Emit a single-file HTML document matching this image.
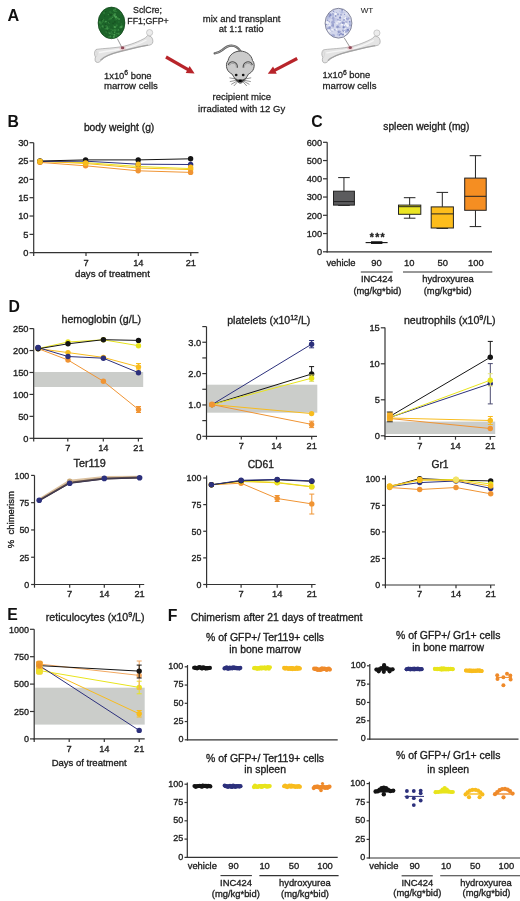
<!DOCTYPE html>
<html><head><meta charset="utf-8"><title>Figure</title>
<style>
html,body{margin:0;padding:0;background:#fff;}
body{width:520px;height:901px;overflow:hidden;}
svg{display:block;font-family:"Liberation Sans", sans-serif;will-change:transform;filter:blur(0.3px);}
text{font-family:"Liberation Sans", sans-serif;stroke:#1e1e1e;paint-order:fill;}
</style></head>
<body>
<svg width="520" height="901" viewBox="0 0 520 901">
<text x="7.40" y="20.90" font-size="16.2" text-anchor="start" font-weight="bold" fill="#111" style="stroke-width:0.0px" >A</text>
<g>
<path d="M96,49.5 C100,48.6 110,48.4 121,46.8 C130,45.2 140,41 145.5,37.8 L147.6,35.4 L151,36.6 C152.8,38.4 153.4,41.2 152.4,43.4 C151.2,45.2 148.5,45.4 146,45.6 C138,47 128,50 121,51.6 C112,53.6 106,56 102,59.5 C100.5,61 99.5,62.5 97.5,62.5 C95,62.5 94.5,59.5 95.5,57 C94.2,55 94,51.5 96,49.5 Z" fill="#e4e4e4" stroke="#a2a2a2" stroke-width="0.7"/>
<path d="M100.5,60.2 C104,56.5 110,54 121,51.2 C130,49 140,46.4 148,45.2" fill="none" stroke="#9c9c9c" stroke-width="1.3" opacity="0.85"/>
<path d="M99,52.5 C106,51.2 114,50.4 122,49 C132,47 140,43.6 146.5,40" fill="none" stroke="#f6f6f6" stroke-width="1.4"/>
<circle cx="149.6" cy="32.6" r="3.1" fill="#ececec" stroke="#b0b0b0" stroke-width="0.6"/>
<path d="M96.2,50.4 C97.6,52.6 97.4,55 96.2,57" fill="none" stroke="#cfcfcf" stroke-width="0.6"/>
</g>
<g transform="translate(227.3,0.4)">
<path d="M96,49.5 C100,48.6 110,48.4 121,46.8 C130,45.2 140,41 145.5,37.8 L147.6,35.4 L151,36.6 C152.8,38.4 153.4,41.2 152.4,43.4 C151.2,45.2 148.5,45.4 146,45.6 C138,47 128,50 121,51.6 C112,53.6 106,56 102,59.5 C100.5,61 99.5,62.5 97.5,62.5 C95,62.5 94.5,59.5 95.5,57 C94.2,55 94,51.5 96,49.5 Z" fill="#e4e4e4" stroke="#a2a2a2" stroke-width="0.7"/>
<path d="M100.5,60.2 C104,56.5 110,54 121,51.2 C130,49 140,46.4 148,45.2" fill="none" stroke="#9c9c9c" stroke-width="1.3" opacity="0.85"/>
<path d="M99,52.5 C106,51.2 114,50.4 122,49 C132,47 140,43.6 146.5,40" fill="none" stroke="#f6f6f6" stroke-width="1.4"/>
<circle cx="149.6" cy="32.6" r="3.1" fill="#ececec" stroke="#b0b0b0" stroke-width="0.6"/>
<path d="M96.2,50.4 C97.6,52.6 97.4,55 96.2,57" fill="none" stroke="#cfcfcf" stroke-width="0.6"/>
</g>
<ellipse cx="111.5" cy="22.9" rx="13.5" ry="15.9" fill="#1c6329"/>
<circle cx="109.31" cy="28.06" r="0.53" fill="#237030" />
<circle cx="113.17" cy="18.79" r="0.54" fill="#175222" />
<circle cx="109.06" cy="22.77" r="0.79" fill="#4a9e52" />
<circle cx="112.05" cy="33.92" r="1.08" fill="#2e7d38" />
<circle cx="115.74" cy="27.83" r="0.91" fill="#237030" />
<circle cx="120.42" cy="27.21" r="1.18" fill="#2e7d38" />
<circle cx="122.68" cy="26.87" r="0.79" fill="#2a7434" />
<circle cx="102.29" cy="20.06" r="1.07" fill="#175222" />
<circle cx="115.55" cy="33.18" r="0.63" fill="#237030" />
<circle cx="120.20" cy="30.11" r="0.54" fill="#175222" />
<circle cx="114.34" cy="34.70" r="1.04" fill="#4a9e52" />
<circle cx="99.67" cy="25.96" r="0.71" fill="#2a7434" />
<circle cx="114.40" cy="10.95" r="0.56" fill="#3c8f45" />
<circle cx="108.75" cy="32.84" r="1.01" fill="#2a7434" />
<circle cx="108.55" cy="37.20" r="0.86" fill="#2e7d38" />
<circle cx="115.25" cy="30.38" r="0.8" fill="#4a9e52" />
<circle cx="114.91" cy="21.92" r="0.9" fill="#175222" />
<circle cx="116.51" cy="17.03" r="0.75" fill="#237030" />
<circle cx="100.25" cy="23.18" r="1.09" fill="#2e7d38" />
<circle cx="119.66" cy="19.41" r="0.55" fill="#237030" />
<circle cx="110.67" cy="14.68" r="1.2" fill="#175222" />
<circle cx="114.44" cy="15.76" r="1.12" fill="#4a9e52" />
<circle cx="104.50" cy="34.72" r="0.62" fill="#2a7434" />
<circle cx="113.77" cy="25.32" r="0.59" fill="#2a7434" />
<circle cx="111.62" cy="32.20" r="0.56" fill="#4a9e52" />
<circle cx="102.63" cy="26.36" r="1.07" fill="#3c8f45" />
<circle cx="115.86" cy="16.98" r="1.19" fill="#4a9e52" />
<circle cx="108.31" cy="14.54" r="0.61" fill="#3c8f45" />
<circle cx="114.21" cy="29.30" r="0.51" fill="#3c8f45" />
<circle cx="114.12" cy="17.36" r="0.5" fill="#2a7434" />
<circle cx="104.82" cy="27.30" r="0.72" fill="#175222" />
<circle cx="119.73" cy="32.68" r="0.96" fill="#175222" />
<circle cx="110.95" cy="12.87" r="1.06" fill="#237030" />
<circle cx="105.29" cy="28.78" r="0.84" fill="#2e7d38" />
<circle cx="107.04" cy="26.70" r="0.81" fill="#3c8f45" />
<circle cx="119.03" cy="30.24" r="0.5" fill="#2e7d38" />
<circle cx="113.83" cy="26.75" r="0.93" fill="#2a7434" />
<circle cx="116.69" cy="25.80" r="0.6" fill="#4a9e52" />
<circle cx="111.39" cy="31.66" r="0.83" fill="#2a7434" />
<circle cx="118.09" cy="29.79" r="0.84" fill="#4a9e52" />
<circle cx="109.69" cy="28.12" r="0.74" fill="#237030" />
<circle cx="110.44" cy="36.38" r="0.86" fill="#3c8f45" />
<circle cx="114.91" cy="36.84" r="0.6" fill="#2a7434" />
<circle cx="109.50" cy="22.24" r="0.71" fill="#175222" />
<circle cx="109.13" cy="19.39" r="0.86" fill="#2a7434" />
<circle cx="117.80" cy="18.07" r="0.87" fill="#3c8f45" />
<circle cx="112.81" cy="14.51" r="0.93" fill="#3c8f45" />
<circle cx="114.12" cy="10.33" r="1.06" fill="#3c8f45" />
<circle cx="116.01" cy="11.27" r="0.64" fill="#3c8f45" />
<circle cx="100.74" cy="23.48" r="1.05" fill="#2e7d38" />
<circle cx="106.04" cy="24.04" r="1.17" fill="#175222" />
<circle cx="99.97" cy="27.59" r="1.17" fill="#2a7434" />
<circle cx="107.60" cy="28.15" r="0.83" fill="#3c8f45" />
<circle cx="106.92" cy="31.70" r="1.09" fill="#175222" />
<circle cx="101.40" cy="24.45" r="0.56" fill="#237030" />
<circle cx="105.10" cy="10.90" r="1.03" fill="#237030" />
<circle cx="106.23" cy="23.76" r="0.73" fill="#237030" />
<circle cx="115.40" cy="8.99" r="0.82" fill="#4a9e52" />
<circle cx="111.35" cy="18.57" r="0.62" fill="#3c8f45" />
<circle cx="114.92" cy="27.04" r="1.06" fill="#4a9e52" />
<circle cx="118.45" cy="33.64" r="0.96" fill="#4a9e52" />
<circle cx="105.99" cy="31.79" r="0.51" fill="#3c8f45" />
<circle cx="114.78" cy="10.83" r="0.87" fill="#2e7d38" />
<circle cx="119.09" cy="18.93" r="1.08" fill="#3c8f45" />
<circle cx="113.03" cy="30.14" r="0.85" fill="#2a7434" />
<circle cx="112.12" cy="14.44" r="0.79" fill="#175222" />
<circle cx="119.67" cy="33.30" r="1.13" fill="#2a7434" />
<circle cx="105.55" cy="11.46" r="0.79" fill="#175222" />
<circle cx="119.26" cy="17.70" r="0.61" fill="#175222" />
<circle cx="99.75" cy="21.98" r="0.93" fill="#3c8f45" />
<circle cx="112.29" cy="17.22" r="0.83" fill="#3c8f45" />
<circle cx="110.04" cy="11.94" r="0.98" fill="#2a7434" />
<circle cx="102.91" cy="20.92" r="1.12" fill="#2e7d38" />
<circle cx="116.66" cy="25.17" r="1.04" fill="#2e7d38" />
<circle cx="102.07" cy="22.36" r="0.81" fill="#2e7d38" />
<circle cx="104.69" cy="16.03" r="0.64" fill="#175222" />
<circle cx="109.97" cy="33.34" r="0.86" fill="#4a9e52" />
<circle cx="111.63" cy="33.65" r="1.15" fill="#2a7434" />
<circle cx="115.93" cy="18.72" r="0.6" fill="#4a9e52" />
<circle cx="117.55" cy="29.74" r="0.97" fill="#2e7d38" />
<circle cx="106.27" cy="25.88" r="1.05" fill="#2a7434" />
<circle cx="115.45" cy="19.38" r="0.95" fill="#237030" />
<circle cx="107.27" cy="28.47" r="1.18" fill="#3c8f45" />
<circle cx="113.84" cy="37.15" r="1.12" fill="#4a9e52" />
<circle cx="116.86" cy="33.27" r="0.61" fill="#3c8f45" />
<circle cx="103.28" cy="27.35" r="0.79" fill="#2a7434" />
<circle cx="109.12" cy="26.44" r="0.51" fill="#2a7434" />
<circle cx="103.62" cy="19.61" r="0.77" fill="#2e7d38" />
<circle cx="104.69" cy="22.02" r="0.58" fill="#2e7d38" />
<circle cx="116.75" cy="19.42" r="0.56" fill="#2e7d38" />
<circle cx="109.85" cy="36.92" r="0.69" fill="#3c8f45" />
<circle cx="117.12" cy="29.92" r="1.07" fill="#237030" />
<circle cx="111.24" cy="28.64" r="0.9" fill="#175222" />
<circle cx="110.34" cy="18.67" r="1.06" fill="#2e7d38" />
<circle cx="116.35" cy="35.75" r="1.16" fill="#2a7434" />
<circle cx="104.01" cy="12.95" r="0.93" fill="#2e7d38" />
<circle cx="112.62" cy="30.43" r="0.82" fill="#2e7d38" />
<circle cx="106.52" cy="32.27" r="0.94" fill="#2a7434" />
<circle cx="121.72" cy="26.26" r="1.18" fill="#2e7d38" />
<circle cx="111.10" cy="29.21" r="0.94" fill="#2a7434" />
<circle cx="105.89" cy="21.59" r="0.85" fill="#4a9e52" />
<circle cx="114.75" cy="30.77" r="1.2" fill="#2e7d38" />
<circle cx="113.16" cy="23.36" r="0.89" fill="#175222" />
<circle cx="114.72" cy="32.41" r="0.57" fill="#4a9e52" />
<circle cx="114.98" cy="14.03" r="0.88" fill="#4a9e52" />
<circle cx="121.00" cy="13.47" r="0.98" fill="#2a7434" />
<circle cx="118.83" cy="21.94" r="1.01" fill="#237030" />
<circle cx="119.51" cy="34.28" r="1.09" fill="#2e7d38" />
<circle cx="121.42" cy="23.95" r="0.8" fill="#2a7434" />
<circle cx="121.16" cy="27.04" r="1.11" fill="#4a9e52" />
<ellipse cx="111.5" cy="22.9" rx="13.4" ry="15.8" fill="none" stroke="#14481d" stroke-width="0.7"/>
<line x1="117.30" y1="38.60" x2="121.60" y2="46.90" stroke="#555" stroke-width="0.6" />
<ellipse cx="122.6" cy="47.9" rx="1.7" ry="1.4" fill="#5e1a2c"/>
<ellipse cx="122.6" cy="48.2" rx="3.2" ry="2.2" fill="#e8a0a8" opacity="0.35"/>
<text x="147.50" y="13.20" font-size="8.8" text-anchor="middle" font-weight="normal" fill="#1e1e1e" style="stroke-width:0.26px" >SclCre;</text>
<text x="148.00" y="23.60" font-size="8.8" text-anchor="middle" font-weight="normal" fill="#1e1e1e" style="stroke-width:0.26px" >FF1;GFP+</text>
<text x="104.00" y="78.60" font-size="9.4" text-anchor="start" font-weight="normal" fill="#1e1e1e" style="stroke-width:0.26px" >1x10<tspan font-size="6.8" dy="-3.8">6</tspan><tspan dy="3.8"> bone</tspan></text>
<text x="104.00" y="89.20" font-size="9.6" text-anchor="start" font-weight="normal" fill="#1e1e1e" style="stroke-width:0.26px" >marrow cells</text>
<ellipse cx="338.5" cy="23.2" rx="13.4" ry="14.9" fill="#d3d7ec"/>
<circle cx="329.49" cy="26.26" r="0.97" fill="#b5bde0" />
<circle cx="328.85" cy="22.68" r="1.24" fill="#a3aad4" />
<circle cx="328.74" cy="24.85" r="0.68" fill="#a3aad4" />
<circle cx="337.25" cy="27.14" r="1.31" fill="#b5bde0" />
<circle cx="332.05" cy="15.20" r="1.37" fill="#c3c8e6" />
<circle cx="332.89" cy="14.25" r="1.1" fill="#a3aad4" />
<circle cx="340.06" cy="20.17" r="0.75" fill="#8f97c8" />
<circle cx="338.61" cy="25.60" r="0.86" fill="#c3c8e6" />
<circle cx="333.82" cy="19.89" r="1.11" fill="#a3aad4" />
<circle cx="328.24" cy="23.22" r="1.12" fill="#c3c8e6" />
<circle cx="330.70" cy="28.89" r="0.67" fill="#b5bde0" />
<circle cx="338.22" cy="35.26" r="0.83" fill="#f4f5fb" />
<circle cx="348.47" cy="28.38" r="0.69" fill="#c3c8e6" />
<circle cx="337.67" cy="26.67" r="1.28" fill="#8f97c8" />
<circle cx="344.27" cy="23.22" r="0.98" fill="#8f97c8" />
<circle cx="346.38" cy="22.12" r="1.05" fill="#8f97c8" />
<circle cx="341.79" cy="34.00" r="0.67" fill="#7c86bf" />
<circle cx="332.36" cy="35.02" r="1.34" fill="#b5bde0" />
<circle cx="345.53" cy="31.92" r="0.65" fill="#8f97c8" />
<circle cx="340.05" cy="17.61" r="0.75" fill="#f4f5fb" />
<circle cx="326.01" cy="22.43" r="0.7" fill="#b5bde0" />
<circle cx="335.84" cy="19.49" r="1.39" fill="#c3c8e6" />
<circle cx="350.21" cy="23.24" r="1.07" fill="#b5bde0" />
<circle cx="340.27" cy="23.17" r="0.92" fill="#a3aad4" />
<circle cx="344.66" cy="14.40" r="0.63" fill="#8f97c8" />
<circle cx="343.57" cy="30.53" r="1.22" fill="#8f97c8" />
<circle cx="335.24" cy="29.84" r="0.66" fill="#8f97c8" />
<circle cx="341.08" cy="33.89" r="1.08" fill="#8f97c8" />
<circle cx="332.63" cy="29.93" r="0.99" fill="#f4f5fb" />
<circle cx="328.04" cy="17.37" r="1.1" fill="#a3aad4" />
<circle cx="336.25" cy="29.35" r="0.8" fill="#f4f5fb" />
<circle cx="342.50" cy="34.28" r="0.76" fill="#f4f5fb" />
<circle cx="349.76" cy="19.19" r="0.66" fill="#f4f5fb" />
<circle cx="342.48" cy="24.54" r="1.37" fill="#f4f5fb" />
<circle cx="339.27" cy="34.80" r="0.94" fill="#7c86bf" />
<circle cx="345.80" cy="17.73" r="0.74" fill="#f4f5fb" />
<circle cx="337.89" cy="19.63" r="0.98" fill="#a3aad4" />
<circle cx="332.87" cy="14.26" r="0.82" fill="#8f97c8" />
<circle cx="343.44" cy="20.09" r="0.66" fill="#8f97c8" />
<circle cx="333.16" cy="26.85" r="0.74" fill="#8f97c8" />
<circle cx="332.03" cy="30.90" r="0.67" fill="#a3aad4" />
<circle cx="343.95" cy="30.31" r="1.13" fill="#7c86bf" />
<circle cx="335.02" cy="13.32" r="1.07" fill="#a3aad4" />
<circle cx="346.20" cy="18.79" r="1.16" fill="#7c86bf" />
<circle cx="340.29" cy="22.73" r="0.66" fill="#eef0f8" />
<circle cx="344.91" cy="26.37" r="1.4" fill="#a3aad4" />
<circle cx="346.79" cy="27.86" r="0.64" fill="#eef0f8" />
<circle cx="348.46" cy="18.56" r="1.23" fill="#a3aad4" />
<circle cx="344.93" cy="19.02" r="0.98" fill="#eef0f8" />
<circle cx="348.80" cy="29.22" r="0.62" fill="#b5bde0" />
<circle cx="336.98" cy="23.20" r="0.91" fill="#eef0f8" />
<circle cx="329.97" cy="17.83" r="0.67" fill="#8f97c8" />
<circle cx="343.28" cy="27.87" r="1.18" fill="#c3c8e6" />
<circle cx="330.24" cy="30.86" r="0.97" fill="#f4f5fb" />
<circle cx="329.48" cy="25.57" r="1.2" fill="#f4f5fb" />
<circle cx="348.10" cy="25.20" r="0.62" fill="#c3c8e6" />
<circle cx="342.58" cy="21.97" r="1.09" fill="#b5bde0" />
<circle cx="344.09" cy="19.84" r="0.89" fill="#8f97c8" />
<circle cx="344.63" cy="31.69" r="0.74" fill="#f4f5fb" />
<circle cx="346.99" cy="16.91" r="1.0" fill="#c3c8e6" />
<circle cx="338.93" cy="32.01" r="0.76" fill="#7c86bf" />
<circle cx="328.24" cy="28.43" r="1.3" fill="#a3aad4" />
<circle cx="331.31" cy="30.23" r="0.77" fill="#7c86bf" />
<circle cx="343.45" cy="29.34" r="0.63" fill="#b5bde0" />
<circle cx="349.98" cy="28.58" r="0.74" fill="#b5bde0" />
<circle cx="332.21" cy="25.42" r="1.26" fill="#a3aad4" />
<circle cx="331.78" cy="29.92" r="0.85" fill="#eef0f8" />
<circle cx="345.13" cy="11.56" r="0.86" fill="#c3c8e6" />
<circle cx="341.65" cy="16.77" r="0.63" fill="#f4f5fb" />
<circle cx="336.05" cy="13.08" r="1.12" fill="#7c86bf" />
<circle cx="329.22" cy="18.85" r="0.96" fill="#c3c8e6" />
<circle cx="349.84" cy="25.15" r="1.22" fill="#a3aad4" />
<circle cx="342.13" cy="10.04" r="0.96" fill="#8f97c8" />
<circle cx="331.52" cy="15.02" r="0.89" fill="#b5bde0" />
<circle cx="343.45" cy="26.10" r="0.98" fill="#b5bde0" />
<circle cx="339.07" cy="24.50" r="1.03" fill="#c3c8e6" />
<circle cx="344.34" cy="24.69" r="0.88" fill="#b5bde0" />
<circle cx="335.55" cy="13.74" r="1.4" fill="#f4f5fb" />
<circle cx="344.77" cy="33.95" r="1.32" fill="#eef0f8" />
<circle cx="348.89" cy="30.17" r="0.91" fill="#eef0f8" />
<circle cx="333.18" cy="25.08" r="0.9" fill="#8f97c8" />
<circle cx="327.77" cy="17.75" r="1.26" fill="#b5bde0" />
<circle cx="334.52" cy="29.80" r="0.68" fill="#a3aad4" />
<circle cx="346.01" cy="13.97" r="0.7" fill="#eef0f8" />
<circle cx="338.88" cy="31.85" r="1.38" fill="#8f97c8" />
<circle cx="327.60" cy="20.36" r="0.81" fill="#7c86bf" />
<circle cx="338.19" cy="21.50" r="0.67" fill="#f4f5fb" />
<circle cx="329.79" cy="26.93" r="0.82" fill="#b5bde0" />
<circle cx="343.65" cy="20.07" r="0.65" fill="#b5bde0" />
<circle cx="340.11" cy="17.72" r="1.15" fill="#7c86bf" />
<circle cx="345.97" cy="18.41" r="1.32" fill="#f4f5fb" />
<circle cx="328.19" cy="21.90" r="1.36" fill="#c3c8e6" />
<circle cx="326.24" cy="23.83" r="1.21" fill="#8f97c8" />
<circle cx="329.76" cy="27.05" r="1.18" fill="#b5bde0" />
<circle cx="332.64" cy="15.52" r="1.33" fill="#b5bde0" />
<circle cx="338.08" cy="34.55" r="1.3" fill="#b5bde0" />
<circle cx="333.13" cy="18.35" r="1.37" fill="#a3aad4" />
<circle cx="329.07" cy="21.61" r="0.93" fill="#a3aad4" />
<circle cx="339.17" cy="23.84" r="0.62" fill="#c3c8e6" />
<circle cx="347.38" cy="21.30" r="1.04" fill="#c3c8e6" />
<circle cx="342.89" cy="22.88" r="1.15" fill="#8f97c8" />
<circle cx="346.97" cy="27.29" r="1.34" fill="#c3c8e6" />
<circle cx="340.99" cy="14.83" r="0.98" fill="#a3aad4" />
<circle cx="344.29" cy="29.73" r="1.35" fill="#b5bde0" />
<circle cx="346.50" cy="18.36" r="0.75" fill="#8f97c8" />
<circle cx="329.56" cy="14.20" r="1.16" fill="#a3aad4" />
<circle cx="340.85" cy="22.83" r="0.78" fill="#a3aad4" />
<circle cx="335.74" cy="15.94" r="0.8" fill="#7c86bf" />
<circle cx="329.59" cy="23.27" r="0.7" fill="#f4f5fb" />
<circle cx="332.21" cy="22.74" r="1.16" fill="#a3aad4" />
<circle cx="339.89" cy="21.74" r="0.93" fill="#eef0f8" />
<circle cx="333.55" cy="22.18" r="1.29" fill="#a3aad4" />
<circle cx="332.75" cy="21.83" r="1.28" fill="#a3aad4" />
<circle cx="329.59" cy="14.92" r="1.33" fill="#a3aad4" />
<circle cx="333.34" cy="17.32" r="0.85" fill="#a3aad4" />
<circle cx="333.69" cy="35.42" r="1.22" fill="#a3aad4" />
<circle cx="339.84" cy="27.25" r="0.71" fill="#a3aad4" />
<circle cx="345.17" cy="27.74" r="1.27" fill="#c3c8e6" />
<circle cx="328.63" cy="29.02" r="0.76" fill="#a3aad4" />
<circle cx="330.69" cy="14.28" r="0.76" fill="#8f97c8" />
<circle cx="333.54" cy="11.14" r="0.69" fill="#7c86bf" />
<circle cx="327.54" cy="22.77" r="1.4" fill="#f4f5fb" />
<circle cx="344.12" cy="12.43" r="0.68" fill="#c3c8e6" />
<circle cx="347.60" cy="25.60" r="1.32" fill="#f4f5fb" />
<circle cx="333.05" cy="23.91" r="0.76" fill="#8f97c8" />
<circle cx="345.23" cy="11.56" r="0.68" fill="#eef0f8" />
<circle cx="349.87" cy="28.33" r="0.66" fill="#c3c8e6" />
<circle cx="344.97" cy="28.15" r="1.01" fill="#c3c8e6" />
<circle cx="329.66" cy="27.77" r="1.11" fill="#8f97c8" />
<circle cx="343.95" cy="24.78" r="0.96" fill="#c3c8e6" />
<circle cx="337.96" cy="14.40" r="1.08" fill="#a3aad4" />
<circle cx="347.78" cy="30.12" r="1.31" fill="#7c86bf" />
<circle cx="341.88" cy="12.17" r="1.33" fill="#b5bde0" />
<circle cx="347.33" cy="19.32" r="1.0" fill="#a3aad4" />
<circle cx="349.74" cy="21.85" r="0.82" fill="#7c86bf" />
<circle cx="346.59" cy="31.17" r="1.25" fill="#a3aad4" />
<circle cx="328.61" cy="30.53" r="1.16" fill="#f4f5fb" />
<circle cx="339.69" cy="11.15" r="0.77" fill="#c3c8e6" />
<circle cx="342.98" cy="34.55" r="0.98" fill="#7c86bf" />
<circle cx="346.00" cy="23.75" r="1.32" fill="#eef0f8" />
<circle cx="344.77" cy="25.42" r="0.84" fill="#eef0f8" />
<circle cx="340.20" cy="31.83" r="1.03" fill="#a3aad4" />
<circle cx="328.81" cy="32.06" r="0.77" fill="#eef0f8" />
<circle cx="344.29" cy="29.15" r="0.62" fill="#f4f5fb" />
<circle cx="330.39" cy="15.30" r="0.95" fill="#7c86bf" />
<circle cx="327.51" cy="22.84" r="0.9" fill="#eef0f8" />
<circle cx="343.64" cy="27.23" r="1.04" fill="#7c86bf" />
<circle cx="326.12" cy="22.53" r="1.28" fill="#f4f5fb" />
<circle cx="345.31" cy="28.61" r="0.66" fill="#eef0f8" />
<circle cx="329.52" cy="16.25" r="0.91" fill="#8f97c8" />
<ellipse cx="338.5" cy="23.2" rx="13.4" ry="14.9" fill="none" stroke="#6c6f86" stroke-width="0.8"/>
<line x1="344.20" y1="37.80" x2="349.60" y2="46.60" stroke="#555" stroke-width="0.6" />
<ellipse cx="350.2" cy="47.7" rx="1.7" ry="1.4" fill="#5e1a2c"/>
<ellipse cx="350.2" cy="48.0" rx="3.2" ry="2.2" fill="#e8a0a8" opacity="0.35"/>
<text x="367.00" y="12.70" font-size="8.1" text-anchor="middle" font-weight="normal" fill="#1e1e1e" style="stroke-width:0.05px" >WT</text>
<text x="322.60" y="78.40" font-size="9.4" text-anchor="start" font-weight="normal" fill="#1e1e1e" style="stroke-width:0.26px" >1x10<tspan font-size="6.8" dy="-3.8">6</tspan><tspan dy="3.8"> bone</tspan></text>
<text x="322.60" y="88.60" font-size="9.6" text-anchor="start" font-weight="normal" fill="#1e1e1e" style="stroke-width:0.26px" >marrow cells</text>
<text x="241.60" y="21.60" font-size="9.5" text-anchor="middle" font-weight="normal" fill="#1e1e1e" style="stroke-width:0.26px" >mix and transplant</text>
<text x="241.20" y="32.30" font-size="9.5" text-anchor="middle" font-weight="normal" fill="#1e1e1e" style="stroke-width:0.26px" >at 1:1 ratio</text>
<text x="241.80" y="100.30" font-size="9.5" text-anchor="middle" font-weight="normal" fill="#1e1e1e" style="stroke-width:0.26px" >recipient mice</text>
<text x="241.60" y="111.60" font-size="9.5" text-anchor="middle" font-weight="normal" fill="#1e1e1e" style="stroke-width:0.26px" >irradiated with 12 Gy</text>
<line x1="166.00" y1="57.00" x2="188.53" y2="69.92" stroke="#b8242a" stroke-width="3.2" />
<polygon points="194.60,73.40 185.67,72.89 189.65,65.95" fill="#b8242a"/>
<line x1="297.20" y1="58.50" x2="274.01" y2="70.57" stroke="#b8242a" stroke-width="3.2" />
<polygon points="267.80,73.80 273.05,66.56 276.74,73.66" fill="#b8242a"/>
<g>
<path d="M214.7,53.4 C217.5,53.2 220,51.8 222.5,49.8 C225.5,47.2 228.5,45.6 231.5,45.6 C235,45.6 238,47.4 240.4,51.2" fill="none" stroke="#5a5a5a" stroke-width="2.3" stroke-linecap="round"/>
<path d="M215.2,53.2 C217.5,53.0 220,51.8 222.5,49.8 C225.5,47.2 228.5,45.6 231.5,45.6 C235,45.6 238,47.4 240.4,51.2" fill="none" stroke="#a8a8a8" stroke-width="0.9" stroke-linecap="round"/>
<path d="M240.3,51.1 C246.5,51.1 251.5,55 252.5,60.5 C254.4,62.5 254.6,66 253.6,68.8 C252.6,71.6 250.2,73.2 248.4,74.2 C246.8,77.5 244,81 241.5,82.8 C240.8,83.3 239.8,83.3 239.1,82.8 C236.6,81 233.8,77.5 232.2,74.2 C230.4,73.2 228,71.6 227,68.8 C226,66 226.2,62.5 228.1,60.5 C229.1,55 234.1,51.1 240.3,51.1 Z" fill="#cbcbcb" stroke="#4e4e4e" stroke-width="1.0"/>
<path d="M228.2,65.0 C229,61.8 232.6,61 235.2,62.6 C236.8,63.6 237.6,65.4 237.4,67.8" fill="none" stroke="#505050" stroke-width="1.1"/>
<path d="M252.4,65.0 C251.6,61.8 248,61 245.4,62.6 C243.8,63.6 243,65.4 243.2,67.8" fill="none" stroke="#505050" stroke-width="1.1"/>
<path d="M229.2,65.6 C230,63.4 232.6,62.8 234.6,63.8 C235.8,64.6 236.4,66 236.3,67.6" fill="none" stroke="#9a9a9a" stroke-width="0.9"/>
<path d="M251.4,65.6 C250.6,63.4 248,62.8 246,63.8 C244.8,64.6 244.2,66 244.3,67.6" fill="none" stroke="#9a9a9a" stroke-width="0.9"/>
<path d="M235.6,78.6 C237.6,80.2 243,80.2 245,78.6 L243.4,81.2 C241.8,82.9 238.8,82.9 237.2,81.2 Z" fill="#3a3a3a"/>
<circle cx="236.2" cy="75.0" r="1.35" fill="#111"/>
<circle cx="243.2" cy="75.0" r="1.35" fill="#111"/>
<ellipse cx="240.3" cy="80.8" rx="1.5" ry="1.2" fill="#000"/>
<path d="M236.8,79.2 L229.4,77.8 M236.8,80.2 L229.8,81.6 M237.2,81.0 L231.2,84.4 M237.8,81.6 L233.8,86.0 M243.8,79.2 L251.2,77.8 M243.8,80.2 L250.8,81.6 M243.4,81.0 L249.4,84.4 M242.8,81.6 L246.8,86.0" stroke="#3a3a3a" stroke-width="0.55" fill="none"/>
</g>
<text x="7.60" y="126.90" font-size="15.8" text-anchor="start" font-weight="bold" fill="#111" style="stroke-width:0.0px" >B</text>
<text x="119.10" y="130.50" font-size="10.3" text-anchor="middle" font-weight="normal" fill="#1e1e1e" style="stroke-width:0.34px" >body weight (g)</text>
<line x1="33.70" y1="142.70" x2="33.70" y2="253.30" stroke="#333333" stroke-width="1.2" />
<line x1="29.50" y1="252.70" x2="33.70" y2="252.70" stroke="#333333" stroke-width="1.2" />
<text x="28.50" y="256.00" font-size="9.3" text-anchor="end" font-weight="normal" fill="#1e1e1e" style="stroke-width:0.34px" >0</text>
<line x1="29.50" y1="234.37" x2="33.70" y2="234.37" stroke="#333333" stroke-width="1.2" />
<text x="28.50" y="237.67" font-size="9.3" text-anchor="end" font-weight="normal" fill="#1e1e1e" style="stroke-width:0.34px" >5</text>
<line x1="29.50" y1="216.03" x2="33.70" y2="216.03" stroke="#333333" stroke-width="1.2" />
<text x="28.50" y="219.33" font-size="9.3" text-anchor="end" font-weight="normal" fill="#1e1e1e" style="stroke-width:0.34px" >10</text>
<line x1="29.50" y1="197.70" x2="33.70" y2="197.70" stroke="#333333" stroke-width="1.2" />
<text x="28.50" y="201.00" font-size="9.3" text-anchor="end" font-weight="normal" fill="#1e1e1e" style="stroke-width:0.34px" >15</text>
<line x1="29.50" y1="179.37" x2="33.70" y2="179.37" stroke="#333333" stroke-width="1.2" />
<text x="28.50" y="182.67" font-size="9.3" text-anchor="end" font-weight="normal" fill="#1e1e1e" style="stroke-width:0.34px" >20</text>
<line x1="29.50" y1="161.03" x2="33.70" y2="161.03" stroke="#333333" stroke-width="1.2" />
<text x="28.50" y="164.33" font-size="9.3" text-anchor="end" font-weight="normal" fill="#1e1e1e" style="stroke-width:0.34px" >25</text>
<line x1="29.50" y1="142.70" x2="33.70" y2="142.70" stroke="#333333" stroke-width="1.2" />
<text x="28.50" y="146.00" font-size="9.3" text-anchor="end" font-weight="normal" fill="#1e1e1e" style="stroke-width:0.34px" >30</text>
<line x1="33.10" y1="252.70" x2="198.50" y2="252.70" stroke="#333333" stroke-width="1.2" />
<line x1="33.70" y1="252.70" x2="33.70" y2="255.90" stroke="#333333" stroke-width="1.2" />
<line x1="86.00" y1="252.70" x2="86.00" y2="255.90" stroke="#333333" stroke-width="1.2" />
<text x="86.00" y="265.50" font-size="9.3" text-anchor="middle" font-weight="normal" fill="#1e1e1e" style="stroke-width:0.34px" >7</text>
<line x1="138.30" y1="252.70" x2="138.30" y2="255.90" stroke="#333333" stroke-width="1.2" />
<text x="138.30" y="265.50" font-size="9.3" text-anchor="middle" font-weight="normal" fill="#1e1e1e" style="stroke-width:0.34px" >14</text>
<line x1="190.80" y1="252.70" x2="190.80" y2="255.90" stroke="#333333" stroke-width="1.2" />
<text x="190.80" y="265.50" font-size="9.3" text-anchor="middle" font-weight="normal" fill="#1e1e1e" style="stroke-width:0.34px" >21</text>
<text x="112.50" y="277.00" font-size="9.7" text-anchor="middle" font-weight="normal" fill="#1e1e1e" style="stroke-width:0.34px" >days of treatment</text>
<polyline points="40.00,161.60 85.60,162.60 138.20,166.50 190.60,168.60" fill="none" stroke="#e8e41c" stroke-width="1.0"/>
<circle cx="40.00" cy="161.60" r="2.7" fill="#e8e41c" />
<circle cx="85.60" cy="162.60" r="2.7" fill="#e8e41c" />
<circle cx="138.20" cy="166.50" r="2.7" fill="#e8e41c" />
<circle cx="190.60" cy="168.60" r="2.7" fill="#e8e41c" />
<polyline points="40.00,161.30 85.60,163.50 138.20,168.00 190.60,169.60" fill="none" stroke="#f8bc1e" stroke-width="1.0"/>
<circle cx="40.00" cy="161.30" r="2.7" fill="#f8bc1e" />
<circle cx="85.60" cy="163.50" r="2.7" fill="#f8bc1e" />
<circle cx="138.20" cy="168.00" r="2.7" fill="#f8bc1e" />
<circle cx="190.60" cy="169.60" r="2.7" fill="#f8bc1e" />
<polyline points="40.00,162.40 85.60,165.80 138.20,170.80 190.60,172.40" fill="none" stroke="#f09433" stroke-width="1.0"/>
<circle cx="40.00" cy="162.40" r="2.7" fill="#f09433" />
<circle cx="85.60" cy="165.80" r="2.7" fill="#f09433" />
<circle cx="138.20" cy="170.80" r="2.7" fill="#f09433" />
<circle cx="190.60" cy="172.40" r="2.7" fill="#f09433" />
<polyline points="40.00,161.50 85.60,161.20 138.20,164.20 190.60,164.50" fill="none" stroke="#2c307c" stroke-width="1.0"/>
<circle cx="40.00" cy="161.50" r="2.7" fill="#2c307c" />
<circle cx="85.60" cy="161.20" r="2.7" fill="#2c307c" />
<circle cx="138.20" cy="164.20" r="2.7" fill="#2c307c" />
<circle cx="190.60" cy="164.50" r="2.7" fill="#2c307c" />
<polyline points="40.00,161.00 85.60,159.90 138.20,159.90 190.60,158.80" fill="none" stroke="#141414" stroke-width="1.0"/>
<circle cx="40.00" cy="161.00" r="2.7" fill="#141414" />
<circle cx="85.60" cy="159.90" r="2.7" fill="#141414" />
<circle cx="138.20" cy="159.90" r="2.7" fill="#141414" />
<circle cx="190.60" cy="158.80" r="2.7" fill="#141414" />
<circle cx="40.00" cy="161.40" r="2.9" fill="#f8bc1e" />
<circle cx="85.60" cy="163.20" r="2.9" fill="#f8bc1e" />
<circle cx="138.20" cy="164.20" r="2.7" fill="#f8bc1e" />
<circle cx="190.60" cy="167.30" r="2.7" fill="#f8bc1e" />
<text x="311.30" y="127.30" font-size="15.8" text-anchor="start" font-weight="bold" fill="#111" style="stroke-width:0.0px" >C</text>
<text x="426.40" y="130.30" font-size="10.2" text-anchor="middle" font-weight="normal" fill="#1e1e1e" style="stroke-width:0.34px" >spleen weight (mg)</text>
<line x1="327.20" y1="142.30" x2="327.20" y2="252.40" stroke="#333333" stroke-width="1.2" />
<line x1="323.00" y1="251.80" x2="327.20" y2="251.80" stroke="#333333" stroke-width="1.2" />
<text x="322.00" y="255.10" font-size="9.2" text-anchor="end" font-weight="normal" fill="#1e1e1e" style="stroke-width:0.34px" >0</text>
<line x1="323.00" y1="233.55" x2="327.20" y2="233.55" stroke="#333333" stroke-width="1.2" />
<text x="322.00" y="236.85" font-size="9.2" text-anchor="end" font-weight="normal" fill="#1e1e1e" style="stroke-width:0.34px" >100</text>
<line x1="323.00" y1="215.30" x2="327.20" y2="215.30" stroke="#333333" stroke-width="1.2" />
<text x="322.00" y="218.60" font-size="9.2" text-anchor="end" font-weight="normal" fill="#1e1e1e" style="stroke-width:0.34px" >200</text>
<line x1="323.00" y1="197.05" x2="327.20" y2="197.05" stroke="#333333" stroke-width="1.2" />
<text x="322.00" y="200.35" font-size="9.2" text-anchor="end" font-weight="normal" fill="#1e1e1e" style="stroke-width:0.34px" >300</text>
<line x1="323.00" y1="178.80" x2="327.20" y2="178.80" stroke="#333333" stroke-width="1.2" />
<text x="322.00" y="182.10" font-size="9.2" text-anchor="end" font-weight="normal" fill="#1e1e1e" style="stroke-width:0.34px" >400</text>
<line x1="323.00" y1="160.55" x2="327.20" y2="160.55" stroke="#333333" stroke-width="1.2" />
<text x="322.00" y="163.85" font-size="9.2" text-anchor="end" font-weight="normal" fill="#1e1e1e" style="stroke-width:0.34px" >500</text>
<line x1="323.00" y1="142.30" x2="327.20" y2="142.30" stroke="#333333" stroke-width="1.2" />
<text x="322.00" y="145.60" font-size="9.2" text-anchor="end" font-weight="normal" fill="#1e1e1e" style="stroke-width:0.34px" >600</text>
<line x1="326.60" y1="251.80" x2="492.00" y2="251.80" stroke="#333333" stroke-width="1.2" />
<line x1="343.95" y1="177.60" x2="343.95" y2="191.20" stroke="#222" stroke-width="1.0" />
<line x1="338.15" y1="177.60" x2="349.75" y2="177.60" stroke="#222" stroke-width="1.0" />
<line x1="343.95" y1="205.10" x2="343.95" y2="205.40" stroke="#222" stroke-width="1.0" />
<line x1="338.15" y1="205.40" x2="349.75" y2="205.40" stroke="#222" stroke-width="1.0" />
<rect x="333.50" y="191.20" width="20.90" height="13.90" fill="#5c5c5e" stroke="#222" stroke-width="1.0" />
<line x1="333.50" y1="201.60" x2="354.40" y2="201.60" stroke="#222" stroke-width="1.0" />
<line x1="409.65" y1="197.70" x2="409.65" y2="205.10" stroke="#222" stroke-width="1.0" />
<line x1="403.85" y1="197.70" x2="415.45" y2="197.70" stroke="#222" stroke-width="1.0" />
<line x1="409.65" y1="214.30" x2="409.65" y2="218.20" stroke="#222" stroke-width="1.0" />
<line x1="403.85" y1="218.20" x2="415.45" y2="218.20" stroke="#222" stroke-width="1.0" />
<rect x="398.50" y="205.10" width="22.30" height="9.20" fill="#ebe524" stroke="#222" stroke-width="1.0" />
<line x1="398.50" y1="206.70" x2="420.80" y2="206.70" stroke="#222" stroke-width="1.0" />
<line x1="442.30" y1="192.40" x2="442.30" y2="206.90" stroke="#222" stroke-width="1.0" />
<line x1="436.50" y1="192.40" x2="448.10" y2="192.40" stroke="#222" stroke-width="1.0" />
<line x1="442.30" y1="228.00" x2="442.30" y2="228.40" stroke="#222" stroke-width="1.0" />
<line x1="436.50" y1="228.40" x2="448.10" y2="228.40" stroke="#222" stroke-width="1.0" />
<rect x="431.20" y="206.90" width="22.20" height="21.10" fill="#fdbd1c" stroke="#222" stroke-width="1.0" />
<line x1="431.20" y1="213.90" x2="453.40" y2="213.90" stroke="#222" stroke-width="1.0" />
<line x1="475.45" y1="155.70" x2="475.45" y2="178.10" stroke="#222" stroke-width="1.0" />
<line x1="469.65" y1="155.70" x2="481.25" y2="155.70" stroke="#222" stroke-width="1.0" />
<line x1="475.45" y1="210.30" x2="475.45" y2="226.60" stroke="#222" stroke-width="1.0" />
<line x1="469.65" y1="226.60" x2="481.25" y2="226.60" stroke="#222" stroke-width="1.0" />
<rect x="464.70" y="178.10" width="21.50" height="32.20" fill="#f58e22" stroke="#222" stroke-width="1.0" />
<line x1="464.70" y1="196.30" x2="486.20" y2="196.30" stroke="#222" stroke-width="1.0" />
<rect x="371.00" y="241.20" width="11.40" height="2.80" fill="#222" stroke="none" stroke-width="0" />
<line x1="365.60" y1="242.60" x2="387.60" y2="242.60" stroke="#111" stroke-width="1.1" />
<text x="371.80" y="241.00" font-size="10.5" text-anchor="middle" font-weight="bold" fill="#1e1e1e" style="stroke-width:0.34px" >*</text>
<text x="377.20" y="241.00" font-size="10.5" text-anchor="middle" font-weight="bold" fill="#1e1e1e" style="stroke-width:0.34px" >*</text>
<text x="382.50" y="241.00" font-size="10.5" text-anchor="middle" font-weight="bold" fill="#1e1e1e" style="stroke-width:0.34px" >*</text>
<text x="341.00" y="265.50" font-size="9.4" text-anchor="middle" font-weight="normal" fill="#1e1e1e" style="stroke-width:0.34px" >vehicle</text>
<text x="376.40" y="265.50" font-size="9.4" text-anchor="middle" font-weight="normal" fill="#1e1e1e" style="stroke-width:0.34px" >90</text>
<text x="409.20" y="265.50" font-size="9.4" text-anchor="middle" font-weight="normal" fill="#1e1e1e" style="stroke-width:0.34px" >10</text>
<text x="442.70" y="265.50" font-size="9.4" text-anchor="middle" font-weight="normal" fill="#1e1e1e" style="stroke-width:0.34px" >50</text>
<text x="475.90" y="265.50" font-size="9.4" text-anchor="middle" font-weight="normal" fill="#1e1e1e" style="stroke-width:0.34px" >100</text>
<line x1="360.80" y1="272.00" x2="392.70" y2="272.00" stroke="#333333" stroke-width="1.2" />
<line x1="403.00" y1="272.00" x2="492.30" y2="272.00" stroke="#333333" stroke-width="1.2" />
<text x="376.80" y="281.60" font-size="9.4" text-anchor="middle" font-weight="normal" fill="#1e1e1e" style="stroke-width:0.34px" >INC424</text>
<text x="377.40" y="294.00" font-size="9.4" text-anchor="middle" font-weight="normal" fill="#1e1e1e" style="stroke-width:0.34px" >(mg/kg*bid)</text>
<text x="448.00" y="281.60" font-size="9.4" text-anchor="middle" font-weight="normal" fill="#1e1e1e" style="stroke-width:0.34px" >hydroxyurea</text>
<text x="447.70" y="294.00" font-size="9.4" text-anchor="middle" font-weight="normal" fill="#1e1e1e" style="stroke-width:0.34px" >(mg/kg*bid)</text>
<text x="8.60" y="311.60" font-size="15.8" text-anchor="start" font-weight="bold" fill="#111" style="stroke-width:0.0px" >D</text>
<text x="101.30" y="322.70" font-size="10.6" text-anchor="middle" font-weight="normal" fill="#1e1e1e" style="stroke-width:0.34px" >hemoglobin (g/L)</text>
<rect x="34.30" y="372.00" width="108.90" height="15.00" fill="#cbcdca" stroke="none" stroke-width="0" />
<line x1="33.70" y1="328.60" x2="33.70" y2="438.90" stroke="#333333" stroke-width="1.2" />
<line x1="29.50" y1="438.30" x2="33.70" y2="438.30" stroke="#333333" stroke-width="1.2" />
<text x="28.50" y="441.60" font-size="9.3" text-anchor="end" font-weight="normal" fill="#1e1e1e" style="stroke-width:0.34px" >0</text>
<line x1="29.50" y1="416.36" x2="33.70" y2="416.36" stroke="#333333" stroke-width="1.2" />
<text x="28.50" y="419.66" font-size="9.3" text-anchor="end" font-weight="normal" fill="#1e1e1e" style="stroke-width:0.34px" >50</text>
<line x1="29.50" y1="394.42" x2="33.70" y2="394.42" stroke="#333333" stroke-width="1.2" />
<text x="28.50" y="397.72" font-size="9.3" text-anchor="end" font-weight="normal" fill="#1e1e1e" style="stroke-width:0.34px" >100</text>
<line x1="29.50" y1="372.48" x2="33.70" y2="372.48" stroke="#333333" stroke-width="1.2" />
<text x="28.50" y="375.78" font-size="9.3" text-anchor="end" font-weight="normal" fill="#1e1e1e" style="stroke-width:0.34px" >150</text>
<line x1="29.50" y1="350.54" x2="33.70" y2="350.54" stroke="#333333" stroke-width="1.2" />
<text x="28.50" y="353.84" font-size="9.3" text-anchor="end" font-weight="normal" fill="#1e1e1e" style="stroke-width:0.34px" >200</text>
<line x1="29.50" y1="328.60" x2="33.70" y2="328.60" stroke="#333333" stroke-width="1.2" />
<text x="28.50" y="331.90" font-size="9.3" text-anchor="end" font-weight="normal" fill="#1e1e1e" style="stroke-width:0.34px" >250</text>
<line x1="33.10" y1="438.30" x2="142.80" y2="438.30" stroke="#333333" stroke-width="1.2" />
<line x1="33.70" y1="438.30" x2="33.70" y2="441.50" stroke="#333333" stroke-width="1.2" />
<line x1="67.80" y1="438.30" x2="67.80" y2="441.50" stroke="#333333" stroke-width="1.2" />
<text x="67.80" y="450.90" font-size="9.3" text-anchor="middle" font-weight="normal" fill="#1e1e1e" style="stroke-width:0.34px" >7</text>
<line x1="103.30" y1="438.30" x2="103.30" y2="441.50" stroke="#333333" stroke-width="1.2" />
<text x="103.30" y="450.90" font-size="9.3" text-anchor="middle" font-weight="normal" fill="#1e1e1e" style="stroke-width:0.34px" >14</text>
<line x1="138.40" y1="438.30" x2="138.40" y2="441.50" stroke="#333333" stroke-width="1.2" />
<text x="138.40" y="450.90" font-size="9.3" text-anchor="middle" font-weight="normal" fill="#1e1e1e" style="stroke-width:0.34px" >21</text>
<polyline points="38.10,348.60 68.00,360.00 103.40,381.30 138.50,409.50" fill="none" stroke="#f09433" stroke-width="1.0"/>
<line x1="138.50" y1="406.50" x2="138.50" y2="412.50" stroke="#f09433" stroke-width="1.0" />
<line x1="136.00" y1="406.50" x2="141.00" y2="406.50" stroke="#f09433" stroke-width="1.0" />
<line x1="136.00" y1="412.50" x2="141.00" y2="412.50" stroke="#f09433" stroke-width="1.0" />
<circle cx="38.10" cy="348.60" r="2.7" fill="#f09433" />
<circle cx="68.00" cy="360.00" r="2.7" fill="#f09433" />
<circle cx="103.40" cy="381.30" r="2.7" fill="#f09433" />
<circle cx="138.50" cy="409.50" r="2.7" fill="#f09433" />
<polyline points="38.10,348.60 68.00,352.60 103.40,357.40 138.50,366.90" fill="none" stroke="#f8bc1e" stroke-width="1.0"/>
<line x1="138.50" y1="363.50" x2="138.50" y2="370.00" stroke="#f8bc1e" stroke-width="1.0" />
<line x1="136.00" y1="363.50" x2="141.00" y2="363.50" stroke="#f8bc1e" stroke-width="1.0" />
<line x1="136.00" y1="370.00" x2="141.00" y2="370.00" stroke="#f8bc1e" stroke-width="1.0" />
<circle cx="38.10" cy="348.60" r="2.7" fill="#f8bc1e" />
<circle cx="68.00" cy="352.60" r="2.7" fill="#f8bc1e" />
<circle cx="103.40" cy="357.40" r="2.7" fill="#f8bc1e" />
<circle cx="138.50" cy="366.90" r="2.7" fill="#f8bc1e" />
<polyline points="38.10,348.60 68.00,342.00 103.40,339.80 138.50,345.70" fill="none" stroke="#e8e41c" stroke-width="1.0"/>
<circle cx="38.10" cy="348.60" r="2.7" fill="#e8e41c" />
<circle cx="68.00" cy="342.00" r="2.7" fill="#e8e41c" />
<circle cx="103.40" cy="339.80" r="2.7" fill="#e8e41c" />
<circle cx="138.50" cy="345.70" r="2.7" fill="#e8e41c" />
<polyline points="38.10,347.60 68.00,356.50 103.40,358.20 138.50,372.70" fill="none" stroke="#2c307c" stroke-width="1.0"/>
<circle cx="38.10" cy="347.60" r="2.7" fill="#2c307c" />
<circle cx="68.00" cy="356.50" r="2.7" fill="#2c307c" />
<circle cx="103.40" cy="358.20" r="2.7" fill="#2c307c" />
<circle cx="138.50" cy="372.70" r="2.7" fill="#2c307c" />
<polyline points="38.10,348.80 68.00,343.80 103.40,339.70 138.50,340.40" fill="none" stroke="#141414" stroke-width="1.0"/>
<circle cx="38.10" cy="348.80" r="2.7" fill="#141414" />
<circle cx="68.00" cy="343.80" r="2.7" fill="#141414" />
<circle cx="103.40" cy="339.70" r="2.7" fill="#141414" />
<circle cx="138.50" cy="340.40" r="2.7" fill="#141414" />
<circle cx="38.10" cy="347.60" r="2.8" fill="#2c307c" />
<text x="268.80" y="324.00" font-size="10.6" text-anchor="middle" font-weight="normal" fill="#1e1e1e" style="stroke-width:0.34px" >platelets (x10<tspan font-size="7" dy="-4">12</tspan><tspan dy="4">/L)</tspan></text>
<rect x="207.00" y="384.70" width="110.30" height="28.00" fill="#cbcdca" stroke="none" stroke-width="0" />
<line x1="206.50" y1="326.60" x2="206.50" y2="436.90" stroke="#333333" stroke-width="1.2" />
<line x1="202.30" y1="436.30" x2="206.50" y2="436.30" stroke="#333333" stroke-width="1.2" />
<text x="201.30" y="439.60" font-size="9.3" text-anchor="end" font-weight="normal" fill="#1e1e1e" style="stroke-width:0.34px" >0</text>
<line x1="202.30" y1="420.62" x2="206.50" y2="420.62" stroke="#333333" stroke-width="1.2" />
<line x1="202.30" y1="404.95" x2="206.50" y2="404.95" stroke="#333333" stroke-width="1.2" />
<text x="201.30" y="408.25" font-size="9.3" text-anchor="end" font-weight="normal" fill="#1e1e1e" style="stroke-width:0.34px" >1.0</text>
<line x1="202.30" y1="389.27" x2="206.50" y2="389.27" stroke="#333333" stroke-width="1.2" />
<line x1="202.30" y1="373.60" x2="206.50" y2="373.60" stroke="#333333" stroke-width="1.2" />
<text x="201.30" y="376.90" font-size="9.3" text-anchor="end" font-weight="normal" fill="#1e1e1e" style="stroke-width:0.34px" >2.0</text>
<line x1="202.30" y1="357.93" x2="206.50" y2="357.93" stroke="#333333" stroke-width="1.2" />
<line x1="202.30" y1="342.25" x2="206.50" y2="342.25" stroke="#333333" stroke-width="1.2" />
<text x="201.30" y="345.55" font-size="9.3" text-anchor="end" font-weight="normal" fill="#1e1e1e" style="stroke-width:0.34px" >3.0</text>
<line x1="202.30" y1="326.57" x2="206.50" y2="326.57" stroke="#333333" stroke-width="1.2" />
<line x1="205.90" y1="436.30" x2="317.00" y2="436.30" stroke="#333333" stroke-width="1.2" />
<line x1="206.50" y1="436.30" x2="206.50" y2="439.50" stroke="#333333" stroke-width="1.2" />
<line x1="241.30" y1="436.30" x2="241.30" y2="439.50" stroke="#333333" stroke-width="1.2" />
<text x="241.30" y="448.90" font-size="9.3" text-anchor="middle" font-weight="normal" fill="#1e1e1e" style="stroke-width:0.34px" >7</text>
<line x1="276.50" y1="436.30" x2="276.50" y2="439.50" stroke="#333333" stroke-width="1.2" />
<text x="276.50" y="448.90" font-size="9.3" text-anchor="middle" font-weight="normal" fill="#1e1e1e" style="stroke-width:0.34px" >14</text>
<line x1="311.70" y1="436.30" x2="311.70" y2="439.50" stroke="#333333" stroke-width="1.2" />
<text x="311.70" y="448.90" font-size="9.3" text-anchor="middle" font-weight="normal" fill="#1e1e1e" style="stroke-width:0.34px" >21</text>
<polyline points="212.00,404.60 311.60,344.20" fill="none" stroke="#2c307c" stroke-width="1.0"/>
<line x1="311.60" y1="340.50" x2="311.60" y2="347.80" stroke="#2c307c" stroke-width="1.0" />
<line x1="309.10" y1="340.50" x2="314.10" y2="340.50" stroke="#2c307c" stroke-width="1.0" />
<line x1="309.10" y1="347.80" x2="314.10" y2="347.80" stroke="#2c307c" stroke-width="1.0" />
<circle cx="212.00" cy="404.60" r="2.7" fill="#2c307c" />
<circle cx="311.60" cy="344.20" r="2.7" fill="#2c307c" />
<polyline points="212.00,404.60 311.60,374.00" fill="none" stroke="#141414" stroke-width="1.0"/>
<line x1="311.60" y1="366.60" x2="311.60" y2="374.00" stroke="#141414" stroke-width="1.0" />
<line x1="309.10" y1="366.60" x2="314.10" y2="366.60" stroke="#141414" stroke-width="1.0" />
<line x1="309.10" y1="374.00" x2="314.10" y2="374.00" stroke="#141414" stroke-width="1.0" />
<circle cx="212.00" cy="404.60" r="2.7" fill="#141414" />
<circle cx="311.60" cy="374.00" r="2.7" fill="#141414" />
<polyline points="212.00,404.60 311.60,378.20" fill="none" stroke="#e8e41c" stroke-width="1.0"/>
<line x1="311.60" y1="375.00" x2="311.60" y2="381.30" stroke="#d8d860" stroke-width="1.0" />
<line x1="309.10" y1="375.00" x2="314.10" y2="375.00" stroke="#d8d860" stroke-width="1.0" />
<line x1="309.10" y1="381.30" x2="314.10" y2="381.30" stroke="#d8d860" stroke-width="1.0" />
<circle cx="212.00" cy="404.60" r="2.7" fill="#e8e41c" />
<circle cx="311.60" cy="378.20" r="2.7" fill="#e8e41c" />
<polyline points="212.00,404.60 311.60,413.60" fill="none" stroke="#f8bc1e" stroke-width="1.0"/>
<circle cx="212.00" cy="404.60" r="2.7" fill="#f8bc1e" />
<circle cx="311.60" cy="413.60" r="2.7" fill="#f8bc1e" />
<polyline points="212.00,404.60 311.60,424.40" fill="none" stroke="#f09433" stroke-width="1.0"/>
<line x1="311.60" y1="421.20" x2="311.60" y2="427.60" stroke="#f09433" stroke-width="1.0" />
<line x1="309.10" y1="421.20" x2="314.10" y2="421.20" stroke="#f09433" stroke-width="1.0" />
<line x1="309.10" y1="427.60" x2="314.10" y2="427.60" stroke="#f09433" stroke-width="1.0" />
<circle cx="212.00" cy="404.60" r="2.7" fill="#f09433" />
<circle cx="311.60" cy="424.40" r="2.7" fill="#f09433" />
<circle cx="212.00" cy="404.60" r="3.0" fill="#f09433" />
<text x="449.80" y="323.80" font-size="10.6" text-anchor="middle" font-weight="normal" fill="#1e1e1e" style="stroke-width:0.34px" >neutrophils (x10<tspan font-size="7" dy="-4">9</tspan><tspan dy="4">/L)</tspan></text>
<rect x="385.60" y="421.60" width="109.60" height="12.40" fill="#cbcdca" stroke="none" stroke-width="0" />
<line x1="385.00" y1="327.50" x2="385.00" y2="437.10" stroke="#333333" stroke-width="1.2" />
<line x1="380.80" y1="435.80" x2="385.00" y2="435.80" stroke="#333333" stroke-width="1.2" />
<text x="379.80" y="439.10" font-size="9.3" text-anchor="end" font-weight="normal" fill="#1e1e1e" style="stroke-width:0.34px" >0</text>
<line x1="380.80" y1="399.80" x2="385.00" y2="399.80" stroke="#333333" stroke-width="1.2" />
<text x="379.80" y="403.10" font-size="9.3" text-anchor="end" font-weight="normal" fill="#1e1e1e" style="stroke-width:0.34px" >5</text>
<line x1="380.80" y1="363.80" x2="385.00" y2="363.80" stroke="#333333" stroke-width="1.2" />
<text x="379.80" y="367.10" font-size="9.3" text-anchor="end" font-weight="normal" fill="#1e1e1e" style="stroke-width:0.34px" >10</text>
<line x1="380.80" y1="327.80" x2="385.00" y2="327.80" stroke="#333333" stroke-width="1.2" />
<text x="379.80" y="331.10" font-size="9.3" text-anchor="end" font-weight="normal" fill="#1e1e1e" style="stroke-width:0.34px" >15</text>
<line x1="384.40" y1="436.50" x2="495.40" y2="436.50" stroke="#333333" stroke-width="1.2" />
<line x1="385.00" y1="436.50" x2="385.00" y2="439.70" stroke="#333333" stroke-width="1.2" />
<line x1="419.90" y1="436.50" x2="419.90" y2="439.70" stroke="#333333" stroke-width="1.2" />
<text x="419.90" y="449.10" font-size="9.3" text-anchor="middle" font-weight="normal" fill="#1e1e1e" style="stroke-width:0.34px" >7</text>
<line x1="455.50" y1="436.50" x2="455.50" y2="439.70" stroke="#333333" stroke-width="1.2" />
<text x="455.50" y="449.10" font-size="9.3" text-anchor="middle" font-weight="normal" fill="#1e1e1e" style="stroke-width:0.34px" >14</text>
<line x1="490.30" y1="436.50" x2="490.30" y2="439.70" stroke="#333333" stroke-width="1.2" />
<text x="490.30" y="449.10" font-size="9.3" text-anchor="middle" font-weight="normal" fill="#1e1e1e" style="stroke-width:0.34px" >21</text>
<polyline points="389.70,418.50 490.30,428.50" fill="none" stroke="#f09433" stroke-width="1.0"/>
<circle cx="389.70" cy="418.50" r="2.7" fill="#f09433" />
<circle cx="490.30" cy="428.50" r="2.7" fill="#f09433" />
<polyline points="389.70,418.00 490.30,420.50" fill="none" stroke="#f8bc1e" stroke-width="1.0"/>
<line x1="490.30" y1="416.50" x2="490.30" y2="424.50" stroke="#f8bc1e" stroke-width="1.0" />
<line x1="487.80" y1="416.50" x2="492.80" y2="416.50" stroke="#f8bc1e" stroke-width="1.0" />
<line x1="487.80" y1="424.50" x2="492.80" y2="424.50" stroke="#f8bc1e" stroke-width="1.0" />
<circle cx="389.70" cy="418.00" r="2.7" fill="#f8bc1e" />
<circle cx="490.30" cy="420.50" r="2.7" fill="#f8bc1e" />
<polyline points="389.70,417.50 490.30,383.60" fill="none" stroke="#2c307c" stroke-width="1.0"/>
<line x1="490.30" y1="363.60" x2="490.30" y2="403.90" stroke="#4a4a70" stroke-width="1.0" />
<line x1="487.80" y1="363.60" x2="492.80" y2="363.60" stroke="#4a4a70" stroke-width="1.0" />
<line x1="487.80" y1="403.90" x2="492.80" y2="403.90" stroke="#4a4a70" stroke-width="1.0" />
<circle cx="389.70" cy="417.50" r="2.7" fill="#2c307c" />
<circle cx="490.30" cy="383.60" r="2.7" fill="#2c307c" />
<polyline points="389.70,417.50 490.30,380.20" fill="none" stroke="#e8e41c" stroke-width="1.0"/>
<line x1="490.30" y1="373.70" x2="490.30" y2="386.00" stroke="#e6e680" stroke-width="1.0" />
<line x1="487.80" y1="373.70" x2="492.80" y2="373.70" stroke="#e6e680" stroke-width="1.0" />
<line x1="487.80" y1="386.00" x2="492.80" y2="386.00" stroke="#e6e680" stroke-width="1.0" />
<circle cx="389.70" cy="417.50" r="2.7" fill="#e8e41c" />
<circle cx="490.30" cy="380.20" r="2.7" fill="#e8e41c" />
<polyline points="389.70,416.50 490.30,357.30" fill="none" stroke="#141414" stroke-width="1.0"/>
<line x1="490.30" y1="341.40" x2="490.30" y2="357.30" stroke="#141414" stroke-width="1.0" />
<line x1="487.80" y1="341.40" x2="492.80" y2="341.40" stroke="#141414" stroke-width="1.0" />
<line x1="487.80" y1="357.30" x2="492.80" y2="357.30" stroke="#141414" stroke-width="1.0" />
<circle cx="389.70" cy="416.50" r="2.7" fill="#141414" />
<circle cx="490.30" cy="357.30" r="2.7" fill="#141414" />
<rect x="386.9" y="411.8" width="6.0" height="10.2" rx="2" fill="#f4b026"/>
<line x1="386.80" y1="412.00" x2="392.80" y2="412.00" stroke="#333" stroke-width="1.0" />
<line x1="386.80" y1="421.80" x2="392.80" y2="421.80" stroke="#333" stroke-width="1.0" />
<circle cx="389.80" cy="417.00" r="2.6" fill="#f2a81e" />
<text x="0.00" y="0.00" font-size="9.5" text-anchor="middle" font-weight="normal" fill="#1e1e1e" style="stroke-width:0.34px" transform="translate(14.0 519.7) rotate(-90)">%&#160; chimerism</text>
<text x="89.60" y="467.30" font-size="10.8" text-anchor="middle" font-weight="normal" fill="#1e1e1e" style="stroke-width:0.34px" >Ter119</text>
<line x1="34.50" y1="475.40" x2="34.50" y2="585.10" stroke="#333333" stroke-width="1.2" />
<line x1="31.10" y1="584.50" x2="34.50" y2="584.50" stroke="#333333" stroke-width="1.2" />
<text x="29.30" y="587.80" font-size="8.9" text-anchor="end" font-weight="normal" fill="#1e1e1e" style="stroke-width:0.34px" >0</text>
<line x1="31.10" y1="557.23" x2="34.50" y2="557.23" stroke="#333333" stroke-width="1.2" />
<text x="29.30" y="560.52" font-size="8.9" text-anchor="end" font-weight="normal" fill="#1e1e1e" style="stroke-width:0.34px" >25</text>
<line x1="31.10" y1="529.95" x2="34.50" y2="529.95" stroke="#333333" stroke-width="1.2" />
<text x="29.30" y="533.25" font-size="8.9" text-anchor="end" font-weight="normal" fill="#1e1e1e" style="stroke-width:0.34px" >50</text>
<line x1="31.10" y1="502.68" x2="34.50" y2="502.68" stroke="#333333" stroke-width="1.2" />
<text x="29.30" y="505.98" font-size="8.9" text-anchor="end" font-weight="normal" fill="#1e1e1e" style="stroke-width:0.34px" >75</text>
<line x1="31.10" y1="475.40" x2="34.50" y2="475.40" stroke="#333333" stroke-width="1.2" />
<text x="29.30" y="478.70" font-size="8.9" text-anchor="end" font-weight="normal" fill="#1e1e1e" style="stroke-width:0.34px" >100</text>
<line x1="33.90" y1="584.50" x2="144.20" y2="584.50" stroke="#333333" stroke-width="1.2" />
<line x1="34.50" y1="584.50" x2="34.50" y2="587.70" stroke="#333333" stroke-width="1.2" />
<line x1="69.70" y1="584.50" x2="69.70" y2="587.70" stroke="#333333" stroke-width="1.2" />
<text x="69.70" y="596.80" font-size="9.3" text-anchor="middle" font-weight="normal" fill="#1e1e1e" style="stroke-width:0.34px" >7</text>
<line x1="104.30" y1="584.50" x2="104.30" y2="587.70" stroke="#333333" stroke-width="1.2" />
<text x="104.30" y="596.80" font-size="9.3" text-anchor="middle" font-weight="normal" fill="#1e1e1e" style="stroke-width:0.34px" >14</text>
<line x1="139.60" y1="584.50" x2="139.60" y2="587.70" stroke="#333333" stroke-width="1.2" />
<text x="139.60" y="596.80" font-size="9.3" text-anchor="middle" font-weight="normal" fill="#1e1e1e" style="stroke-width:0.34px" >21</text>
<polyline points="39.20,499.60 69.70,481.00 104.30,477.20 139.60,477.00" fill="none" stroke="#dcc2a0" stroke-width="2.6"/>
<polyline points="39.20,500.30 69.70,482.60 104.30,478.40 139.60,477.60" fill="none" stroke="#5a4a4a" stroke-width="2.0"/>
<polyline points="39.20,500.60 69.70,483.40 104.30,479.00 139.60,477.90" fill="none" stroke="#3a3550" stroke-width="1.0"/>
<circle cx="69.70" cy="481.40" r="2.8" fill="#c8a878" />
<circle cx="39.20" cy="500.30" r="2.8" fill="#2c307c" />
<circle cx="69.70" cy="483.30" r="2.8" fill="#2c307c" />
<circle cx="104.30" cy="478.40" r="2.8" fill="#2c307c" />
<circle cx="139.60" cy="477.70" r="2.8" fill="#2c307c" />
<text x="260.80" y="468.20" font-size="10.3" text-anchor="middle" font-weight="normal" fill="#1e1e1e" style="stroke-width:0.34px" >CD61</text>
<line x1="206.60" y1="475.40" x2="206.60" y2="585.10" stroke="#333333" stroke-width="1.2" />
<line x1="203.20" y1="584.50" x2="206.60" y2="584.50" stroke="#333333" stroke-width="1.2" />
<text x="201.40" y="587.80" font-size="8.9" text-anchor="end" font-weight="normal" fill="#1e1e1e" style="stroke-width:0.34px" >0</text>
<line x1="203.20" y1="557.88" x2="206.60" y2="557.88" stroke="#333333" stroke-width="1.2" />
<text x="201.40" y="561.17" font-size="8.9" text-anchor="end" font-weight="normal" fill="#1e1e1e" style="stroke-width:0.34px" >25</text>
<line x1="203.20" y1="531.25" x2="206.60" y2="531.25" stroke="#333333" stroke-width="1.2" />
<text x="201.40" y="534.55" font-size="8.9" text-anchor="end" font-weight="normal" fill="#1e1e1e" style="stroke-width:0.34px" >50</text>
<line x1="203.20" y1="504.62" x2="206.60" y2="504.62" stroke="#333333" stroke-width="1.2" />
<text x="201.40" y="507.93" font-size="8.9" text-anchor="end" font-weight="normal" fill="#1e1e1e" style="stroke-width:0.34px" >75</text>
<line x1="203.20" y1="478.00" x2="206.60" y2="478.00" stroke="#333333" stroke-width="1.2" />
<text x="201.40" y="481.30" font-size="8.9" text-anchor="end" font-weight="normal" fill="#1e1e1e" style="stroke-width:0.34px" >100</text>
<line x1="206.00" y1="584.50" x2="315.60" y2="584.50" stroke="#333333" stroke-width="1.2" />
<line x1="206.60" y1="584.50" x2="206.60" y2="587.70" stroke="#333333" stroke-width="1.2" />
<line x1="241.10" y1="584.50" x2="241.10" y2="587.70" stroke="#333333" stroke-width="1.2" />
<text x="241.10" y="596.80" font-size="9.3" text-anchor="middle" font-weight="normal" fill="#1e1e1e" style="stroke-width:0.34px" >7</text>
<line x1="277.20" y1="584.50" x2="277.20" y2="587.70" stroke="#333333" stroke-width="1.2" />
<text x="277.20" y="596.80" font-size="9.3" text-anchor="middle" font-weight="normal" fill="#1e1e1e" style="stroke-width:0.34px" >14</text>
<line x1="311.80" y1="584.50" x2="311.80" y2="587.70" stroke="#333333" stroke-width="1.2" />
<text x="311.80" y="596.80" font-size="9.3" text-anchor="middle" font-weight="normal" fill="#1e1e1e" style="stroke-width:0.34px" >21</text>
<polyline points="211.40,484.80 241.10,483.20 277.20,498.50 311.80,503.90" fill="none" stroke="#f09433" stroke-width="1.0"/>
<line x1="277.20" y1="495.50" x2="277.20" y2="501.50" stroke="#f09433" stroke-width="1.0" />
<line x1="274.70" y1="495.50" x2="279.70" y2="495.50" stroke="#f09433" stroke-width="1.0" />
<line x1="274.70" y1="501.50" x2="279.70" y2="501.50" stroke="#f09433" stroke-width="1.0" />
<line x1="311.80" y1="494.10" x2="311.80" y2="514.00" stroke="#f09433" stroke-width="1.0" />
<line x1="309.30" y1="494.10" x2="314.30" y2="494.10" stroke="#f09433" stroke-width="1.0" />
<line x1="309.30" y1="514.00" x2="314.30" y2="514.00" stroke="#f09433" stroke-width="1.0" />
<circle cx="211.40" cy="484.80" r="2.7" fill="#f09433" />
<circle cx="241.10" cy="483.20" r="2.7" fill="#f09433" />
<circle cx="277.20" cy="498.50" r="2.7" fill="#f09433" />
<circle cx="311.80" cy="503.90" r="2.7" fill="#f09433" />
<polyline points="211.40,484.80 241.10,481.50 277.20,482.80 311.80,486.90" fill="none" stroke="#f8bc1e" stroke-width="1.0"/>
<circle cx="211.40" cy="484.80" r="2.7" fill="#f8bc1e" />
<circle cx="241.10" cy="481.50" r="2.7" fill="#f8bc1e" />
<circle cx="277.20" cy="482.80" r="2.7" fill="#f8bc1e" />
<circle cx="311.80" cy="486.90" r="2.7" fill="#f8bc1e" />
<polyline points="211.40,484.80 241.10,481.00 277.20,482.40 311.80,486.60" fill="none" stroke="#e8e41c" stroke-width="1.0"/>
<circle cx="211.40" cy="484.80" r="2.7" fill="#e8e41c" />
<circle cx="241.10" cy="481.00" r="2.7" fill="#e8e41c" />
<circle cx="277.20" cy="482.40" r="2.7" fill="#e8e41c" />
<circle cx="311.80" cy="486.60" r="2.7" fill="#e8e41c" />
<polyline points="211.40,484.80 241.10,480.80 277.20,479.80 311.80,481.30" fill="none" stroke="#141414" stroke-width="1.0"/>
<circle cx="211.40" cy="484.80" r="2.7" fill="#141414" />
<circle cx="241.10" cy="480.80" r="2.7" fill="#141414" />
<circle cx="277.20" cy="479.80" r="2.7" fill="#141414" />
<circle cx="311.80" cy="481.30" r="2.7" fill="#141414" />
<polyline points="211.40,484.80 241.10,480.30 277.20,479.40 311.80,480.90" fill="none" stroke="#2c307c" stroke-width="1.0"/>
<circle cx="211.40" cy="484.80" r="2.7" fill="#2c307c" />
<circle cx="241.10" cy="480.30" r="2.7" fill="#2c307c" />
<circle cx="277.20" cy="479.40" r="2.7" fill="#2c307c" />
<circle cx="311.80" cy="480.90" r="2.7" fill="#2c307c" />
<text x="440.00" y="468.20" font-size="10.3" text-anchor="middle" font-weight="normal" fill="#1e1e1e" style="stroke-width:0.34px" >Gr1</text>
<line x1="385.40" y1="475.60" x2="385.40" y2="585.60" stroke="#333333" stroke-width="1.2" />
<line x1="382.00" y1="585.00" x2="385.40" y2="585.00" stroke="#333333" stroke-width="1.2" />
<text x="380.20" y="588.30" font-size="8.9" text-anchor="end" font-weight="normal" fill="#1e1e1e" style="stroke-width:0.34px" >0</text>
<line x1="382.00" y1="558.45" x2="385.40" y2="558.45" stroke="#333333" stroke-width="1.2" />
<text x="380.20" y="561.75" font-size="8.9" text-anchor="end" font-weight="normal" fill="#1e1e1e" style="stroke-width:0.34px" >25</text>
<line x1="382.00" y1="531.90" x2="385.40" y2="531.90" stroke="#333333" stroke-width="1.2" />
<text x="380.20" y="535.20" font-size="8.9" text-anchor="end" font-weight="normal" fill="#1e1e1e" style="stroke-width:0.34px" >50</text>
<line x1="382.00" y1="505.35" x2="385.40" y2="505.35" stroke="#333333" stroke-width="1.2" />
<text x="380.20" y="508.65" font-size="8.9" text-anchor="end" font-weight="normal" fill="#1e1e1e" style="stroke-width:0.34px" >75</text>
<line x1="382.00" y1="478.80" x2="385.40" y2="478.80" stroke="#333333" stroke-width="1.2" />
<text x="380.20" y="482.10" font-size="8.9" text-anchor="end" font-weight="normal" fill="#1e1e1e" style="stroke-width:0.34px" >100</text>
<line x1="384.80" y1="585.00" x2="495.00" y2="585.00" stroke="#333333" stroke-width="1.2" />
<line x1="385.40" y1="585.00" x2="385.40" y2="588.20" stroke="#333333" stroke-width="1.2" />
<line x1="419.70" y1="585.00" x2="419.70" y2="588.20" stroke="#333333" stroke-width="1.2" />
<text x="419.70" y="597.30" font-size="9.3" text-anchor="middle" font-weight="normal" fill="#1e1e1e" style="stroke-width:0.34px" >7</text>
<line x1="456.00" y1="585.00" x2="456.00" y2="588.20" stroke="#333333" stroke-width="1.2" />
<text x="456.00" y="597.30" font-size="9.3" text-anchor="middle" font-weight="normal" fill="#1e1e1e" style="stroke-width:0.34px" >14</text>
<line x1="490.70" y1="585.00" x2="490.70" y2="588.20" stroke="#333333" stroke-width="1.2" />
<text x="490.70" y="597.30" font-size="9.3" text-anchor="middle" font-weight="normal" fill="#1e1e1e" style="stroke-width:0.34px" >21</text>
<polyline points="389.70,486.60 419.70,478.60 456.00,480.20 490.70,480.90" fill="none" stroke="#141414" stroke-width="1.0"/>
<circle cx="389.70" cy="486.60" r="2.7" fill="#141414" />
<circle cx="419.70" cy="478.60" r="2.7" fill="#141414" />
<circle cx="456.00" cy="480.20" r="2.7" fill="#141414" />
<circle cx="490.70" cy="480.90" r="2.7" fill="#141414" />
<polyline points="389.70,486.60 419.70,482.60 456.00,481.00 490.70,488.40" fill="none" stroke="#2c307c" stroke-width="1.0"/>
<circle cx="389.70" cy="486.60" r="2.7" fill="#2c307c" />
<circle cx="419.70" cy="482.60" r="2.7" fill="#2c307c" />
<circle cx="456.00" cy="481.00" r="2.7" fill="#2c307c" />
<circle cx="490.70" cy="488.40" r="2.7" fill="#2c307c" />
<polyline points="389.70,487.50 419.70,489.50 456.00,487.50 490.70,493.80" fill="none" stroke="#f09433" stroke-width="1.0"/>
<circle cx="389.70" cy="487.50" r="2.7" fill="#f09433" />
<circle cx="419.70" cy="489.50" r="2.7" fill="#f09433" />
<circle cx="456.00" cy="487.50" r="2.7" fill="#f09433" />
<circle cx="490.70" cy="493.80" r="2.7" fill="#f09433" />
<polyline points="389.70,486.60 419.70,480.20 456.00,479.40 490.70,484.00" fill="none" stroke="#e8e41c" stroke-width="1.0"/>
<circle cx="389.70" cy="486.60" r="2.7" fill="#e8e41c" />
<circle cx="419.70" cy="480.20" r="2.7" fill="#e8e41c" />
<circle cx="456.00" cy="479.40" r="2.7" fill="#e8e41c" />
<circle cx="490.70" cy="484.00" r="2.7" fill="#e8e41c" />
<polyline points="389.70,486.00 419.70,479.80 456.00,480.50 490.70,486.00" fill="none" stroke="#f8bc1e" stroke-width="1.0"/>
<circle cx="389.70" cy="486.00" r="2.7" fill="#f8bc1e" />
<circle cx="419.70" cy="479.80" r="2.7" fill="#f8bc1e" />
<circle cx="456.00" cy="480.50" r="2.7" fill="#f8bc1e" />
<circle cx="490.70" cy="486.00" r="2.7" fill="#f8bc1e" />
<circle cx="419.70" cy="479.80" r="3.0" fill="#f8bc1e" />
<circle cx="456.00" cy="479.60" r="3.0" fill="#f3e36a" />
<circle cx="389.70" cy="486.60" r="3.0" fill="#f8bc1e" />
<text x="7.30" y="619.80" font-size="15.8" text-anchor="start" font-weight="bold" fill="#111" style="stroke-width:0.0px" >E</text>
<text x="95.20" y="621.20" font-size="10.6" text-anchor="middle" font-weight="normal" fill="#1e1e1e" style="stroke-width:0.34px" >reticulocytes (x10<tspan font-size="7" dy="-4">9</tspan><tspan dy="4">/L)</tspan></text>
<rect x="34.60" y="687.70" width="110.10" height="36.90" fill="#cbcdca" stroke="none" stroke-width="0" />
<line x1="34.20" y1="629.30" x2="34.20" y2="739.50" stroke="#333333" stroke-width="1.2" />
<line x1="30.00" y1="738.90" x2="34.20" y2="738.90" stroke="#333333" stroke-width="1.2" />
<text x="29.00" y="742.20" font-size="9.0" text-anchor="end" font-weight="normal" fill="#1e1e1e" style="stroke-width:0.34px" >0</text>
<line x1="30.00" y1="711.50" x2="34.20" y2="711.50" stroke="#333333" stroke-width="1.2" />
<text x="29.00" y="714.80" font-size="9.0" text-anchor="end" font-weight="normal" fill="#1e1e1e" style="stroke-width:0.34px" >250</text>
<line x1="30.00" y1="684.10" x2="34.20" y2="684.10" stroke="#333333" stroke-width="1.2" />
<text x="29.00" y="687.40" font-size="9.0" text-anchor="end" font-weight="normal" fill="#1e1e1e" style="stroke-width:0.34px" >500</text>
<line x1="30.00" y1="656.70" x2="34.20" y2="656.70" stroke="#333333" stroke-width="1.2" />
<text x="29.00" y="660.00" font-size="9.0" text-anchor="end" font-weight="normal" fill="#1e1e1e" style="stroke-width:0.34px" >750</text>
<line x1="30.00" y1="629.30" x2="34.20" y2="629.30" stroke="#333333" stroke-width="1.2" />
<text x="29.00" y="632.60" font-size="9.0" text-anchor="end" font-weight="normal" fill="#1e1e1e" style="stroke-width:0.34px" >1000</text>
<line x1="33.60" y1="738.90" x2="144.70" y2="738.90" stroke="#333333" stroke-width="1.2" />
<line x1="34.20" y1="738.90" x2="34.20" y2="742.10" stroke="#333333" stroke-width="1.2" />
<line x1="69.20" y1="738.90" x2="69.20" y2="742.10" stroke="#333333" stroke-width="1.2" />
<text x="69.20" y="752.10" font-size="9.3" text-anchor="middle" font-weight="normal" fill="#1e1e1e" style="stroke-width:0.34px" >7</text>
<line x1="104.30" y1="738.90" x2="104.30" y2="742.10" stroke="#333333" stroke-width="1.2" />
<text x="104.30" y="752.10" font-size="9.3" text-anchor="middle" font-weight="normal" fill="#1e1e1e" style="stroke-width:0.34px" >14</text>
<line x1="139.20" y1="738.90" x2="139.20" y2="742.10" stroke="#333333" stroke-width="1.2" />
<text x="139.20" y="752.10" font-size="9.3" text-anchor="middle" font-weight="normal" fill="#1e1e1e" style="stroke-width:0.34px" >21</text>
<text x="89.20" y="765.70" font-size="9.5" text-anchor="middle" font-weight="normal" fill="#1e1e1e" style="stroke-width:0.34px" >Days of treatment</text>
<polyline points="39.20,667.00 139.20,713.80" fill="none" stroke="#f8bc1e" stroke-width="1.0"/>
<line x1="139.20" y1="710.50" x2="139.20" y2="717.00" stroke="#f8bc1e" stroke-width="1.0" />
<line x1="136.70" y1="710.50" x2="141.70" y2="710.50" stroke="#f8bc1e" stroke-width="1.0" />
<line x1="136.70" y1="717.00" x2="141.70" y2="717.00" stroke="#f8bc1e" stroke-width="1.0" />
<circle cx="39.20" cy="667.00" r="2.7" fill="#f8bc1e" />
<circle cx="139.20" cy="713.80" r="2.7" fill="#f8bc1e" />
<polyline points="39.20,670.50 139.20,687.40" fill="none" stroke="#e8e41c" stroke-width="1.0"/>
<line x1="139.20" y1="681.20" x2="139.20" y2="693.80" stroke="#e8e41c" stroke-width="1.0" />
<line x1="136.70" y1="681.20" x2="141.70" y2="681.20" stroke="#e8e41c" stroke-width="1.0" />
<line x1="136.70" y1="693.80" x2="141.70" y2="693.80" stroke="#e8e41c" stroke-width="1.0" />
<circle cx="39.20" cy="670.50" r="2.7" fill="#e8e41c" />
<circle cx="139.20" cy="687.40" r="2.7" fill="#e8e41c" />
<polyline points="39.20,664.00 139.20,675.40" fill="none" stroke="#f2a860" stroke-width="1.0"/>
<line x1="139.20" y1="661.00" x2="139.20" y2="689.00" stroke="#f2a860" stroke-width="1.0" />
<line x1="136.70" y1="661.00" x2="141.70" y2="661.00" stroke="#f2a860" stroke-width="1.0" />
<line x1="136.70" y1="689.00" x2="141.70" y2="689.00" stroke="#f2a860" stroke-width="1.0" />
<circle cx="39.20" cy="664.00" r="2.7" fill="#f2a860" />
<circle cx="139.20" cy="675.40" r="2.7" fill="#f2a860" />
<polyline points="39.20,665.50 139.20,730.40" fill="none" stroke="#2c307c" stroke-width="1.0"/>
<circle cx="39.20" cy="665.50" r="2.7" fill="#2c307c" />
<circle cx="139.20" cy="730.40" r="2.7" fill="#2c307c" />
<polyline points="39.20,665.60 139.20,671.10" fill="none" stroke="#141414" stroke-width="1.0"/>
<line x1="139.20" y1="665.10" x2="139.20" y2="678.00" stroke="#141414" stroke-width="1.0" />
<line x1="136.70" y1="665.10" x2="141.70" y2="665.10" stroke="#141414" stroke-width="1.0" />
<line x1="136.70" y1="678.00" x2="141.70" y2="678.00" stroke="#141414" stroke-width="1.0" />
<circle cx="39.20" cy="665.60" r="2.7" fill="#141414" />
<circle cx="139.20" cy="671.10" r="2.7" fill="#141414" />
<rect x="36.2" y="660.8" width="6.4" height="13.8" rx="1.5" fill="#f6b52a"/>
<rect x="36.2" y="660.8" width="6.4" height="5.5" rx="1.5" fill="#ee9a2c"/>
<rect x="36.2" y="669.0" width="6.4" height="5.6" rx="1.8" fill="#eee22a"/>
<circle cx="39.40" cy="666.00" r="2.4" fill="#e98f2a" />
<text x="167.80" y="621.40" font-size="15.8" text-anchor="start" font-weight="bold" fill="#111" style="stroke-width:0.0px" >F</text>
<text x="190.70" y="620.80" font-size="10.45" text-anchor="start" font-weight="normal" fill="#1e1e1e" style="stroke-width:0.34px" >Chimerism after 21 days of treatment</text>
<text x="265.10" y="641.00" font-size="10.45" text-anchor="middle" font-weight="normal" fill="#1e1e1e" style="stroke-width:0.34px" >% of GFP+/ Ter119+ cells</text>
<text x="265.10" y="653.40" font-size="10.45" text-anchor="middle" font-weight="normal" fill="#1e1e1e" style="stroke-width:0.34px" >in bone marrow</text>
<line x1="187.50" y1="665.00" x2="187.50" y2="740.40" stroke="#333333" stroke-width="1.2" />
<line x1="184.70" y1="739.80" x2="187.50" y2="739.80" stroke="#333333" stroke-width="1.2" />
<text x="183.40" y="742.10" font-size="9.0" text-anchor="end" font-weight="normal" fill="#1e1e1e" style="stroke-width:0.34px" >0</text>
<line x1="184.70" y1="721.55" x2="187.50" y2="721.55" stroke="#333333" stroke-width="1.2" />
<text x="183.40" y="723.85" font-size="9.0" text-anchor="end" font-weight="normal" fill="#1e1e1e" style="stroke-width:0.34px" >25</text>
<line x1="184.70" y1="703.30" x2="187.50" y2="703.30" stroke="#333333" stroke-width="1.2" />
<text x="183.40" y="705.60" font-size="9.0" text-anchor="end" font-weight="normal" fill="#1e1e1e" style="stroke-width:0.34px" >50</text>
<line x1="184.70" y1="685.05" x2="187.50" y2="685.05" stroke="#333333" stroke-width="1.2" />
<text x="183.40" y="687.35" font-size="9.0" text-anchor="end" font-weight="normal" fill="#1e1e1e" style="stroke-width:0.34px" >75</text>
<line x1="184.70" y1="666.80" x2="187.50" y2="666.80" stroke="#333333" stroke-width="1.2" />
<text x="183.40" y="669.10" font-size="9.0" text-anchor="end" font-weight="normal" fill="#1e1e1e" style="stroke-width:0.34px" >100</text>
<line x1="186.90" y1="739.80" x2="337.70" y2="739.80" stroke="#333333" stroke-width="1.2" />
<line x1="194.10" y1="667.80" x2="209.90" y2="667.80" stroke="#141414" stroke-width="3.2" />
<circle cx="194.10" cy="667.73" r="2.1" fill="#141414" />
<circle cx="195.15" cy="667.57" r="2.1" fill="#141414" />
<circle cx="196.21" cy="668.21" r="2.1" fill="#141414" />
<circle cx="197.26" cy="668.29" r="2.1" fill="#141414" />
<circle cx="198.31" cy="667.49" r="2.1" fill="#141414" />
<circle cx="199.37" cy="667.10" r="2.1" fill="#141414" />
<circle cx="200.42" cy="667.50" r="2.1" fill="#141414" />
<circle cx="201.47" cy="668.34" r="2.1" fill="#141414" />
<circle cx="202.53" cy="668.33" r="2.1" fill="#141414" />
<circle cx="203.58" cy="667.24" r="2.1" fill="#141414" />
<circle cx="204.63" cy="667.98" r="2.1" fill="#141414" />
<circle cx="205.69" cy="668.56" r="2.1" fill="#141414" />
<circle cx="206.74" cy="668.17" r="2.1" fill="#141414" />
<circle cx="207.79" cy="668.35" r="2.1" fill="#141414" />
<circle cx="208.85" cy="668.01" r="2.1" fill="#141414" />
<circle cx="209.90" cy="667.92" r="2.1" fill="#141414" />
<circle cx="202.00" cy="667.80" r="2.4" fill="#141414" />
<line x1="224.50" y1="668.00" x2="240.30" y2="668.00" stroke="#2c307c" stroke-width="3.2" />
<circle cx="224.50" cy="668.40" r="2.1" fill="#2c307c" />
<circle cx="225.55" cy="668.01" r="2.1" fill="#2c307c" />
<circle cx="226.61" cy="667.34" r="2.1" fill="#2c307c" />
<circle cx="227.66" cy="668.63" r="2.1" fill="#2c307c" />
<circle cx="228.71" cy="668.74" r="2.1" fill="#2c307c" />
<circle cx="229.77" cy="667.61" r="2.1" fill="#2c307c" />
<circle cx="230.82" cy="668.36" r="2.1" fill="#2c307c" />
<circle cx="231.87" cy="667.98" r="2.1" fill="#2c307c" />
<circle cx="232.93" cy="667.85" r="2.1" fill="#2c307c" />
<circle cx="233.98" cy="667.40" r="2.1" fill="#2c307c" />
<circle cx="235.03" cy="668.13" r="2.1" fill="#2c307c" />
<circle cx="236.09" cy="667.81" r="2.1" fill="#2c307c" />
<circle cx="237.14" cy="668.41" r="2.1" fill="#2c307c" />
<circle cx="238.19" cy="667.99" r="2.1" fill="#2c307c" />
<circle cx="239.25" cy="668.62" r="2.1" fill="#2c307c" />
<circle cx="240.30" cy="667.88" r="2.1" fill="#2c307c" />
<circle cx="232.40" cy="668.00" r="2.4" fill="#2c307c" />
<line x1="254.10" y1="668.00" x2="269.90" y2="668.00" stroke="#e8e41c" stroke-width="3.2" />
<circle cx="254.10" cy="668.21" r="2.1" fill="#e8e41c" />
<circle cx="255.15" cy="667.81" r="2.1" fill="#e8e41c" />
<circle cx="256.21" cy="668.46" r="2.1" fill="#e8e41c" />
<circle cx="257.26" cy="668.78" r="2.1" fill="#e8e41c" />
<circle cx="258.31" cy="668.06" r="2.1" fill="#e8e41c" />
<circle cx="259.37" cy="668.74" r="2.1" fill="#e8e41c" />
<circle cx="260.42" cy="667.63" r="2.1" fill="#e8e41c" />
<circle cx="261.47" cy="668.37" r="2.1" fill="#e8e41c" />
<circle cx="262.53" cy="667.93" r="2.1" fill="#e8e41c" />
<circle cx="263.58" cy="668.17" r="2.1" fill="#e8e41c" />
<circle cx="264.63" cy="667.46" r="2.1" fill="#e8e41c" />
<circle cx="265.69" cy="668.63" r="2.1" fill="#e8e41c" />
<circle cx="266.74" cy="668.11" r="2.1" fill="#e8e41c" />
<circle cx="267.79" cy="667.21" r="2.1" fill="#e8e41c" />
<circle cx="268.85" cy="668.69" r="2.1" fill="#e8e41c" />
<circle cx="269.90" cy="667.32" r="2.1" fill="#e8e41c" />
<circle cx="262.00" cy="668.00" r="2.4" fill="#e8e41c" />
<line x1="284.10" y1="668.40" x2="299.90" y2="668.40" stroke="#f8bc1e" stroke-width="3.2" />
<circle cx="284.10" cy="667.90" r="2.1" fill="#f8bc1e" />
<circle cx="285.15" cy="668.64" r="2.1" fill="#f8bc1e" />
<circle cx="286.21" cy="667.80" r="2.1" fill="#f8bc1e" />
<circle cx="287.26" cy="668.28" r="2.1" fill="#f8bc1e" />
<circle cx="288.31" cy="668.94" r="2.1" fill="#f8bc1e" />
<circle cx="289.37" cy="667.98" r="2.1" fill="#f8bc1e" />
<circle cx="290.42" cy="668.93" r="2.1" fill="#f8bc1e" />
<circle cx="291.47" cy="668.00" r="2.1" fill="#f8bc1e" />
<circle cx="292.53" cy="669.05" r="2.1" fill="#f8bc1e" />
<circle cx="293.58" cy="668.31" r="2.1" fill="#f8bc1e" />
<circle cx="294.63" cy="668.85" r="2.1" fill="#f8bc1e" />
<circle cx="295.69" cy="668.88" r="2.1" fill="#f8bc1e" />
<circle cx="296.74" cy="667.72" r="2.1" fill="#f8bc1e" />
<circle cx="297.79" cy="668.90" r="2.1" fill="#f8bc1e" />
<circle cx="298.85" cy="667.80" r="2.1" fill="#f8bc1e" />
<circle cx="299.90" cy="668.61" r="2.1" fill="#f8bc1e" />
<circle cx="292.00" cy="668.40" r="2.4" fill="#f8bc1e" />
<line x1="314.10" y1="669.20" x2="329.90" y2="669.20" stroke="#ef8a2a" stroke-width="3.2" />
<circle cx="314.10" cy="668.63" r="2.1" fill="#ef8a2a" />
<circle cx="315.15" cy="668.89" r="2.1" fill="#ef8a2a" />
<circle cx="316.21" cy="668.61" r="2.1" fill="#ef8a2a" />
<circle cx="317.26" cy="669.87" r="2.1" fill="#ef8a2a" />
<circle cx="318.31" cy="669.63" r="2.1" fill="#ef8a2a" />
<circle cx="319.37" cy="669.73" r="2.1" fill="#ef8a2a" />
<circle cx="320.42" cy="669.97" r="2.1" fill="#ef8a2a" />
<circle cx="321.47" cy="668.62" r="2.1" fill="#ef8a2a" />
<circle cx="322.53" cy="668.63" r="2.1" fill="#ef8a2a" />
<circle cx="323.58" cy="668.94" r="2.1" fill="#ef8a2a" />
<circle cx="324.63" cy="668.52" r="2.1" fill="#ef8a2a" />
<circle cx="325.69" cy="669.13" r="2.1" fill="#ef8a2a" />
<circle cx="326.74" cy="669.89" r="2.1" fill="#ef8a2a" />
<circle cx="327.79" cy="668.90" r="2.1" fill="#ef8a2a" />
<circle cx="328.85" cy="668.49" r="2.1" fill="#ef8a2a" />
<circle cx="329.90" cy="669.61" r="2.1" fill="#ef8a2a" />
<circle cx="322.00" cy="669.20" r="2.4" fill="#ef8a2a" />
<text x="265.10" y="761.50" font-size="10.45" text-anchor="middle" font-weight="normal" fill="#1e1e1e" style="stroke-width:0.34px" >% of GFP+/ Ter119+ cells</text>
<text x="265.10" y="773.20" font-size="10.45" text-anchor="middle" font-weight="normal" fill="#1e1e1e" style="stroke-width:0.34px" >in spleen</text>
<line x1="187.30" y1="782.40" x2="187.30" y2="858.00" stroke="#333333" stroke-width="1.2" />
<line x1="184.50" y1="857.40" x2="187.30" y2="857.40" stroke="#333333" stroke-width="1.2" />
<text x="183.20" y="859.70" font-size="9.0" text-anchor="end" font-weight="normal" fill="#1e1e1e" style="stroke-width:0.34px" >0</text>
<line x1="184.50" y1="839.10" x2="187.30" y2="839.10" stroke="#333333" stroke-width="1.2" />
<text x="183.20" y="841.40" font-size="9.0" text-anchor="end" font-weight="normal" fill="#1e1e1e" style="stroke-width:0.34px" >25</text>
<line x1="184.50" y1="820.80" x2="187.30" y2="820.80" stroke="#333333" stroke-width="1.2" />
<text x="183.20" y="823.10" font-size="9.0" text-anchor="end" font-weight="normal" fill="#1e1e1e" style="stroke-width:0.34px" >50</text>
<line x1="184.50" y1="802.50" x2="187.30" y2="802.50" stroke="#333333" stroke-width="1.2" />
<text x="183.20" y="804.80" font-size="9.0" text-anchor="end" font-weight="normal" fill="#1e1e1e" style="stroke-width:0.34px" >75</text>
<line x1="184.50" y1="784.20" x2="187.30" y2="784.20" stroke="#333333" stroke-width="1.2" />
<text x="183.20" y="786.50" font-size="9.0" text-anchor="end" font-weight="normal" fill="#1e1e1e" style="stroke-width:0.34px" >100</text>
<line x1="186.70" y1="857.40" x2="337.70" y2="857.40" stroke="#333333" stroke-width="1.2" />
<line x1="194.50" y1="786.20" x2="210.30" y2="786.20" stroke="#141414" stroke-width="3.2" />
<circle cx="194.50" cy="786.01" r="2.1" fill="#141414" />
<circle cx="195.55" cy="786.81" r="2.1" fill="#141414" />
<circle cx="196.61" cy="786.32" r="2.1" fill="#141414" />
<circle cx="197.66" cy="786.24" r="2.1" fill="#141414" />
<circle cx="198.71" cy="786.02" r="2.1" fill="#141414" />
<circle cx="199.77" cy="785.74" r="2.1" fill="#141414" />
<circle cx="200.82" cy="786.37" r="2.1" fill="#141414" />
<circle cx="201.87" cy="786.53" r="2.1" fill="#141414" />
<circle cx="202.93" cy="785.58" r="2.1" fill="#141414" />
<circle cx="203.98" cy="785.99" r="2.1" fill="#141414" />
<circle cx="205.03" cy="785.93" r="2.1" fill="#141414" />
<circle cx="206.09" cy="785.86" r="2.1" fill="#141414" />
<circle cx="207.14" cy="786.73" r="2.1" fill="#141414" />
<circle cx="208.19" cy="785.83" r="2.1" fill="#141414" />
<circle cx="209.25" cy="786.01" r="2.1" fill="#141414" />
<circle cx="210.30" cy="786.38" r="2.1" fill="#141414" />
<circle cx="202.40" cy="786.20" r="2.4" fill="#141414" />
<line x1="224.70" y1="786.30" x2="240.50" y2="786.30" stroke="#2c307c" stroke-width="3.2" />
<circle cx="224.70" cy="785.56" r="2.1" fill="#2c307c" />
<circle cx="225.75" cy="786.24" r="2.1" fill="#2c307c" />
<circle cx="226.81" cy="786.15" r="2.1" fill="#2c307c" />
<circle cx="227.86" cy="786.88" r="2.1" fill="#2c307c" />
<circle cx="228.91" cy="786.28" r="2.1" fill="#2c307c" />
<circle cx="229.97" cy="785.86" r="2.1" fill="#2c307c" />
<circle cx="231.02" cy="786.80" r="2.1" fill="#2c307c" />
<circle cx="232.07" cy="786.79" r="2.1" fill="#2c307c" />
<circle cx="233.13" cy="785.51" r="2.1" fill="#2c307c" />
<circle cx="234.18" cy="786.12" r="2.1" fill="#2c307c" />
<circle cx="235.23" cy="787.01" r="2.1" fill="#2c307c" />
<circle cx="236.29" cy="786.06" r="2.1" fill="#2c307c" />
<circle cx="237.34" cy="786.44" r="2.1" fill="#2c307c" />
<circle cx="238.39" cy="786.11" r="2.1" fill="#2c307c" />
<circle cx="239.45" cy="786.56" r="2.1" fill="#2c307c" />
<circle cx="240.50" cy="786.19" r="2.1" fill="#2c307c" />
<circle cx="232.60" cy="786.30" r="2.4" fill="#2c307c" />
<line x1="253.90" y1="786.30" x2="269.70" y2="786.30" stroke="#e8e41c" stroke-width="3.2" />
<circle cx="253.90" cy="787.07" r="2.1" fill="#e8e41c" />
<circle cx="254.95" cy="785.65" r="2.1" fill="#e8e41c" />
<circle cx="256.01" cy="786.70" r="2.1" fill="#e8e41c" />
<circle cx="257.06" cy="786.95" r="2.1" fill="#e8e41c" />
<circle cx="258.11" cy="786.79" r="2.1" fill="#e8e41c" />
<circle cx="259.17" cy="786.09" r="2.1" fill="#e8e41c" />
<circle cx="260.22" cy="786.13" r="2.1" fill="#e8e41c" />
<circle cx="261.27" cy="786.99" r="2.1" fill="#e8e41c" />
<circle cx="262.33" cy="786.35" r="2.1" fill="#e8e41c" />
<circle cx="263.38" cy="786.28" r="2.1" fill="#e8e41c" />
<circle cx="264.43" cy="785.74" r="2.1" fill="#e8e41c" />
<circle cx="265.49" cy="785.87" r="2.1" fill="#e8e41c" />
<circle cx="266.54" cy="786.68" r="2.1" fill="#e8e41c" />
<circle cx="267.59" cy="786.45" r="2.1" fill="#e8e41c" />
<circle cx="268.65" cy="786.40" r="2.1" fill="#e8e41c" />
<circle cx="269.70" cy="786.04" r="2.1" fill="#e8e41c" />
<circle cx="261.80" cy="786.30" r="2.4" fill="#e8e41c" />
<line x1="284.10" y1="786.30" x2="299.90" y2="786.30" stroke="#f8bc1e" stroke-width="3.2" />
<circle cx="284.10" cy="786.24" r="2.1" fill="#f8bc1e" />
<circle cx="285.15" cy="785.60" r="2.1" fill="#f8bc1e" />
<circle cx="286.21" cy="786.77" r="2.1" fill="#f8bc1e" />
<circle cx="287.26" cy="787.03" r="2.1" fill="#f8bc1e" />
<circle cx="288.31" cy="786.37" r="2.1" fill="#f8bc1e" />
<circle cx="289.37" cy="785.55" r="2.1" fill="#f8bc1e" />
<circle cx="290.42" cy="786.66" r="2.1" fill="#f8bc1e" />
<circle cx="291.47" cy="785.57" r="2.1" fill="#f8bc1e" />
<circle cx="292.53" cy="785.99" r="2.1" fill="#f8bc1e" />
<circle cx="293.58" cy="786.09" r="2.1" fill="#f8bc1e" />
<circle cx="294.63" cy="786.64" r="2.1" fill="#f8bc1e" />
<circle cx="295.69" cy="786.80" r="2.1" fill="#f8bc1e" />
<circle cx="296.74" cy="786.29" r="2.1" fill="#f8bc1e" />
<circle cx="297.79" cy="786.78" r="2.1" fill="#f8bc1e" />
<circle cx="298.85" cy="786.07" r="2.1" fill="#f8bc1e" />
<circle cx="299.90" cy="786.81" r="2.1" fill="#f8bc1e" />
<circle cx="292.00" cy="786.30" r="2.4" fill="#f8bc1e" />
<line x1="313.70" y1="787.30" x2="329.50" y2="787.30" stroke="#ef8a2a" stroke-width="3.2" />
<circle cx="313.70" cy="788.06" r="2.1" fill="#ef8a2a" />
<circle cx="314.75" cy="786.89" r="2.1" fill="#ef8a2a" />
<circle cx="315.81" cy="786.87" r="2.1" fill="#ef8a2a" />
<circle cx="316.86" cy="786.60" r="2.1" fill="#ef8a2a" />
<circle cx="317.91" cy="786.66" r="2.1" fill="#ef8a2a" />
<circle cx="318.97" cy="787.53" r="2.1" fill="#ef8a2a" />
<circle cx="320.02" cy="787.60" r="2.1" fill="#ef8a2a" />
<circle cx="321.07" cy="787.41" r="2.1" fill="#ef8a2a" />
<circle cx="322.13" cy="786.94" r="2.1" fill="#ef8a2a" />
<circle cx="323.18" cy="786.64" r="2.1" fill="#ef8a2a" />
<circle cx="324.23" cy="787.70" r="2.1" fill="#ef8a2a" />
<circle cx="325.29" cy="787.80" r="2.1" fill="#ef8a2a" />
<circle cx="326.34" cy="787.07" r="2.1" fill="#ef8a2a" />
<circle cx="327.39" cy="787.92" r="2.1" fill="#ef8a2a" />
<circle cx="328.45" cy="786.96" r="2.1" fill="#ef8a2a" />
<circle cx="329.50" cy="786.63" r="2.1" fill="#ef8a2a" />
<circle cx="321.60" cy="787.30" r="2.4" fill="#ef8a2a" />
<circle cx="321.00" cy="790.50" r="1.8" fill="#ef8a2a" />
<circle cx="322.50" cy="783.50" r="1.6" fill="#ef8a2a" />
<text x="202.30" y="869.30" font-size="9.4" text-anchor="middle" font-weight="normal" fill="#1e1e1e" style="stroke-width:0.34px" >vehicle</text>
<text x="233.50" y="869.30" font-size="9.4" text-anchor="middle" font-weight="normal" fill="#1e1e1e" style="stroke-width:0.34px" >90</text>
<text x="264.60" y="869.30" font-size="9.4" text-anchor="middle" font-weight="normal" fill="#1e1e1e" style="stroke-width:0.34px" >10</text>
<text x="294.00" y="869.30" font-size="9.4" text-anchor="middle" font-weight="normal" fill="#1e1e1e" style="stroke-width:0.34px" >50</text>
<text x="325.00" y="869.30" font-size="9.4" text-anchor="middle" font-weight="normal" fill="#1e1e1e" style="stroke-width:0.34px" >100</text>
<line x1="220.50" y1="875.60" x2="251.90" y2="875.60" stroke="#333333" stroke-width="1.1" />
<line x1="259.40" y1="875.60" x2="338.60" y2="875.60" stroke="#333333" stroke-width="1.1" />
<text x="236.00" y="886.30" font-size="9.4" text-anchor="middle" font-weight="normal" fill="#1e1e1e" style="stroke-width:0.34px" >INC424</text>
<text x="235.80" y="896.70" font-size="9.4" text-anchor="middle" font-weight="normal" fill="#1e1e1e" style="stroke-width:0.34px" >(mg/kg*bid)</text>
<text x="304.80" y="886.30" font-size="9.4" text-anchor="middle" font-weight="normal" fill="#1e1e1e" style="stroke-width:0.34px" >hydroxyurea</text>
<text x="305.00" y="896.70" font-size="9.4" text-anchor="middle" font-weight="normal" fill="#1e1e1e" style="stroke-width:0.34px" >(mg/kg*bid)</text>
<text x="448.20" y="638.50" font-size="10.45" text-anchor="middle" font-weight="normal" fill="#1e1e1e" style="stroke-width:0.34px" >% of GFP+/ Gr1+ cells</text>
<text x="448.20" y="650.80" font-size="10.45" text-anchor="middle" font-weight="normal" fill="#1e1e1e" style="stroke-width:0.34px" >in bone marrow</text>
<line x1="369.80" y1="664.00" x2="369.80" y2="739.70" stroke="#333333" stroke-width="1.2" />
<line x1="367.00" y1="739.10" x2="369.80" y2="739.10" stroke="#333333" stroke-width="1.2" />
<text x="365.70" y="741.40" font-size="9.0" text-anchor="end" font-weight="normal" fill="#1e1e1e" style="stroke-width:0.34px" >0</text>
<line x1="367.00" y1="720.77" x2="369.80" y2="720.77" stroke="#333333" stroke-width="1.2" />
<text x="365.70" y="723.07" font-size="9.0" text-anchor="end" font-weight="normal" fill="#1e1e1e" style="stroke-width:0.34px" >25</text>
<line x1="367.00" y1="702.45" x2="369.80" y2="702.45" stroke="#333333" stroke-width="1.2" />
<text x="365.70" y="704.75" font-size="9.0" text-anchor="end" font-weight="normal" fill="#1e1e1e" style="stroke-width:0.34px" >50</text>
<line x1="367.00" y1="684.12" x2="369.80" y2="684.12" stroke="#333333" stroke-width="1.2" />
<text x="365.70" y="686.42" font-size="9.0" text-anchor="end" font-weight="normal" fill="#1e1e1e" style="stroke-width:0.34px" >75</text>
<line x1="367.00" y1="665.80" x2="369.80" y2="665.80" stroke="#333333" stroke-width="1.2" />
<text x="365.70" y="668.10" font-size="9.0" text-anchor="end" font-weight="normal" fill="#1e1e1e" style="stroke-width:0.34px" >100</text>
<line x1="369.20" y1="739.10" x2="518.50" y2="739.10" stroke="#333333" stroke-width="1.2" />
<line x1="375.60" y1="669.30" x2="393.40" y2="669.30" stroke="#141414" stroke-width="3.0" />
<circle cx="376.40" cy="669.60" r="2.1" fill="#141414" />
<circle cx="379.00" cy="669.40" r="2.1" fill="#141414" />
<circle cx="381.20" cy="668.00" r="2.1" fill="#141414" />
<circle cx="384.10" cy="666.60" r="2.1" fill="#141414" />
<circle cx="387.00" cy="668.00" r="2.1" fill="#141414" />
<circle cx="389.40" cy="669.40" r="2.1" fill="#141414" />
<circle cx="392.60" cy="669.30" r="2.1" fill="#141414" />
<circle cx="378.70" cy="671.30" r="2.1" fill="#141414" />
<circle cx="383.80" cy="671.80" r="2.1" fill="#141414" />
<circle cx="389.60" cy="671.30" r="2.1" fill="#141414" />
<circle cx="384.10" cy="665.20" r="2.1" fill="#141414" />
<ellipse cx="414.10" cy="669.00" rx="8.70" ry="1.90" fill="#2c307c"/>
<circle cx="406.60" cy="669.27" r="2.0" fill="#2c307c" />
<circle cx="406.60" cy="669.27" r="2.0" fill="#2c307c" />
<circle cx="408.48" cy="668.54" r="2.0" fill="#2c307c" />
<circle cx="408.48" cy="668.95" r="2.0" fill="#2c307c" />
<circle cx="410.35" cy="668.86" r="2.0" fill="#2c307c" />
<circle cx="410.35" cy="669.48" r="2.0" fill="#2c307c" />
<circle cx="412.23" cy="668.68" r="2.0" fill="#2c307c" />
<circle cx="412.23" cy="669.31" r="2.0" fill="#2c307c" />
<circle cx="414.10" cy="668.61" r="2.0" fill="#2c307c" />
<circle cx="414.10" cy="669.51" r="2.0" fill="#2c307c" />
<circle cx="415.98" cy="668.63" r="2.0" fill="#2c307c" />
<circle cx="415.98" cy="669.22" r="2.0" fill="#2c307c" />
<circle cx="417.85" cy="668.62" r="2.0" fill="#2c307c" />
<circle cx="417.85" cy="669.27" r="2.0" fill="#2c307c" />
<circle cx="419.73" cy="668.94" r="2.0" fill="#2c307c" />
<circle cx="419.73" cy="669.49" r="2.0" fill="#2c307c" />
<circle cx="421.60" cy="669.27" r="2.0" fill="#2c307c" />
<circle cx="421.60" cy="669.03" r="2.0" fill="#2c307c" />
<ellipse cx="443.80" cy="669.00" rx="10.10" ry="2.00" fill="#e8e41c"/>
<circle cx="434.90" cy="668.84" r="2.0" fill="#e8e41c" />
<circle cx="434.90" cy="669.03" r="2.0" fill="#e8e41c" />
<circle cx="437.12" cy="668.69" r="2.0" fill="#e8e41c" />
<circle cx="437.12" cy="669.30" r="2.0" fill="#e8e41c" />
<circle cx="439.35" cy="668.67" r="2.0" fill="#e8e41c" />
<circle cx="439.35" cy="669.14" r="2.0" fill="#e8e41c" />
<circle cx="441.57" cy="668.20" r="2.0" fill="#e8e41c" />
<circle cx="441.57" cy="669.71" r="2.0" fill="#e8e41c" />
<circle cx="443.80" cy="668.32" r="2.0" fill="#e8e41c" />
<circle cx="443.80" cy="669.38" r="2.0" fill="#e8e41c" />
<circle cx="446.03" cy="668.79" r="2.0" fill="#e8e41c" />
<circle cx="446.03" cy="669.49" r="2.0" fill="#e8e41c" />
<circle cx="448.25" cy="668.80" r="2.0" fill="#e8e41c" />
<circle cx="448.25" cy="669.39" r="2.0" fill="#e8e41c" />
<circle cx="450.48" cy="668.85" r="2.0" fill="#e8e41c" />
<circle cx="450.48" cy="669.03" r="2.0" fill="#e8e41c" />
<circle cx="452.70" cy="669.08" r="2.0" fill="#e8e41c" />
<circle cx="452.70" cy="669.22" r="2.0" fill="#e8e41c" />
<ellipse cx="473.80" cy="670.70" rx="9.00" ry="1.80" fill="#f8bc1e"/>
<circle cx="466.00" cy="670.54" r="2.0" fill="#f8bc1e" />
<circle cx="466.00" cy="670.46" r="2.0" fill="#f8bc1e" />
<circle cx="467.95" cy="670.48" r="2.0" fill="#f8bc1e" />
<circle cx="467.95" cy="670.65" r="2.0" fill="#f8bc1e" />
<circle cx="469.90" cy="670.17" r="2.0" fill="#f8bc1e" />
<circle cx="469.90" cy="670.91" r="2.0" fill="#f8bc1e" />
<circle cx="471.85" cy="670.61" r="2.0" fill="#f8bc1e" />
<circle cx="471.85" cy="671.22" r="2.0" fill="#f8bc1e" />
<circle cx="473.80" cy="670.50" r="2.0" fill="#f8bc1e" />
<circle cx="473.80" cy="670.89" r="2.0" fill="#f8bc1e" />
<circle cx="475.75" cy="670.38" r="2.0" fill="#f8bc1e" />
<circle cx="475.75" cy="670.90" r="2.0" fill="#f8bc1e" />
<circle cx="477.70" cy="670.23" r="2.0" fill="#f8bc1e" />
<circle cx="477.70" cy="670.73" r="2.0" fill="#f8bc1e" />
<circle cx="479.65" cy="670.37" r="2.0" fill="#f8bc1e" />
<circle cx="479.65" cy="671.11" r="2.0" fill="#f8bc1e" />
<circle cx="481.60" cy="670.90" r="2.0" fill="#f8bc1e" />
<circle cx="481.60" cy="670.88" r="2.0" fill="#f8bc1e" />
<circle cx="497.20" cy="675.20" r="2.0" fill="#ef8a2a" />
<circle cx="497.50" cy="679.00" r="2.0" fill="#ef8a2a" />
<circle cx="503.40" cy="677.20" r="2.0" fill="#ef8a2a" />
<circle cx="507.00" cy="673.80" r="2.0" fill="#ef8a2a" />
<circle cx="510.30" cy="675.60" r="2.0" fill="#ef8a2a" />
<circle cx="510.60" cy="679.60" r="2.0" fill="#ef8a2a" />
<circle cx="503.40" cy="685.20" r="2.0" fill="#ef8a2a" />
<line x1="496.00" y1="677.40" x2="512.00" y2="677.40" stroke="#ef8a2a" stroke-width="1.0" />
<text x="448.20" y="759.30" font-size="10.45" text-anchor="middle" font-weight="normal" fill="#1e1e1e" style="stroke-width:0.34px" >% of GFP+/ Gr1+ cells</text>
<text x="448.20" y="772.50" font-size="10.45" text-anchor="middle" font-weight="normal" fill="#1e1e1e" style="stroke-width:0.34px" >in spleen</text>
<line x1="369.40" y1="781.80" x2="369.40" y2="858.60" stroke="#333333" stroke-width="1.2" />
<line x1="366.60" y1="858.00" x2="369.40" y2="858.00" stroke="#333333" stroke-width="1.2" />
<text x="365.30" y="860.30" font-size="9.0" text-anchor="end" font-weight="normal" fill="#1e1e1e" style="stroke-width:0.34px" >0</text>
<line x1="366.60" y1="839.40" x2="369.40" y2="839.40" stroke="#333333" stroke-width="1.2" />
<text x="365.30" y="841.70" font-size="9.0" text-anchor="end" font-weight="normal" fill="#1e1e1e" style="stroke-width:0.34px" >25</text>
<line x1="366.60" y1="820.80" x2="369.40" y2="820.80" stroke="#333333" stroke-width="1.2" />
<text x="365.30" y="823.10" font-size="9.0" text-anchor="end" font-weight="normal" fill="#1e1e1e" style="stroke-width:0.34px" >50</text>
<line x1="366.60" y1="802.20" x2="369.40" y2="802.20" stroke="#333333" stroke-width="1.2" />
<text x="365.30" y="804.50" font-size="9.0" text-anchor="end" font-weight="normal" fill="#1e1e1e" style="stroke-width:0.34px" >75</text>
<line x1="366.60" y1="783.60" x2="369.40" y2="783.60" stroke="#333333" stroke-width="1.2" />
<text x="365.30" y="785.90" font-size="9.0" text-anchor="end" font-weight="normal" fill="#1e1e1e" style="stroke-width:0.34px" >100</text>
<line x1="368.80" y1="858.00" x2="520.50" y2="858.00" stroke="#333333" stroke-width="1.2" />
<line x1="375.40" y1="791.20" x2="394.00" y2="791.00" stroke="#141414" stroke-width="2.8" />
<circle cx="375.60" cy="791.50" r="2.2" fill="#141414" />
<circle cx="377.80" cy="791.20" r="2.2" fill="#141414" />
<circle cx="379.60" cy="789.60" r="2.2" fill="#141414" />
<circle cx="381.60" cy="788.20" r="2.2" fill="#141414" />
<circle cx="383.80" cy="787.60" r="2.2" fill="#141414" />
<circle cx="386.00" cy="788.20" r="2.2" fill="#141414" />
<circle cx="388.00" cy="789.60" r="2.2" fill="#141414" />
<circle cx="390.40" cy="791.00" r="2.2" fill="#141414" />
<circle cx="393.20" cy="790.60" r="2.2" fill="#141414" />
<circle cx="383.80" cy="790.40" r="2.2" fill="#141414" />
<circle cx="383.80" cy="794.30" r="2.2" fill="#141414" />
<circle cx="406.90" cy="791.00" r="1.9" fill="#2c307c" />
<circle cx="413.80" cy="791.00" r="1.9" fill="#2c307c" />
<circle cx="420.70" cy="790.60" r="1.9" fill="#2c307c" />
<circle cx="420.70" cy="793.30" r="1.9" fill="#2c307c" />
<circle cx="407.10" cy="797.10" r="1.9" fill="#2c307c" />
<circle cx="413.80" cy="798.20" r="1.9" fill="#2c307c" />
<circle cx="420.70" cy="800.50" r="1.9" fill="#2c307c" />
<circle cx="413.80" cy="805.10" r="1.9" fill="#2c307c" />
<line x1="404.60" y1="796.40" x2="424.00" y2="796.40" stroke="#2c307c" stroke-width="1.0" />
<line x1="435.00" y1="792.00" x2="452.80" y2="792.00" stroke="#e8e41c" stroke-width="3.0" />
<circle cx="435.60" cy="792.20" r="2.1" fill="#e8e41c" />
<circle cx="438.20" cy="792.00" r="2.1" fill="#e8e41c" />
<circle cx="440.80" cy="791.40" r="2.1" fill="#e8e41c" />
<circle cx="442.60" cy="789.60" r="2.1" fill="#e8e41c" />
<circle cx="444.70" cy="788.00" r="2.1" fill="#e8e41c" />
<circle cx="446.80" cy="789.60" r="2.1" fill="#e8e41c" />
<circle cx="448.60" cy="791.40" r="2.1" fill="#e8e41c" />
<circle cx="451.00" cy="792.00" r="2.1" fill="#e8e41c" />
<circle cx="452.80" cy="792.00" r="2.1" fill="#e8e41c" />
<circle cx="444.70" cy="791.00" r="2.1" fill="#e8e41c" />
<line x1="464.60" y1="794.00" x2="483.00" y2="794.00" stroke="#f8bc1e" stroke-width="1.4" />
<circle cx="465.60" cy="794.40" r="2.1" fill="#f8bc1e" />
<circle cx="467.60" cy="792.40" r="2.1" fill="#f8bc1e" />
<circle cx="470.00" cy="790.60" r="2.1" fill="#f8bc1e" />
<circle cx="472.60" cy="789.80" r="2.1" fill="#f8bc1e" />
<circle cx="475.40" cy="789.80" r="2.1" fill="#f8bc1e" />
<circle cx="478.00" cy="790.60" r="2.1" fill="#f8bc1e" />
<circle cx="480.40" cy="792.40" r="2.1" fill="#f8bc1e" />
<circle cx="482.40" cy="794.40" r="2.1" fill="#f8bc1e" />
<circle cx="469.00" cy="797.20" r="2.1" fill="#f8bc1e" />
<circle cx="479.60" cy="797.20" r="2.1" fill="#f8bc1e" />
<line x1="494.20" y1="794.00" x2="513.80" y2="794.00" stroke="#ef8a2a" stroke-width="1.4" />
<circle cx="495.00" cy="794.20" r="2.1" fill="#ef8a2a" />
<circle cx="497.20" cy="792.20" r="2.1" fill="#ef8a2a" />
<circle cx="499.60" cy="790.20" r="2.1" fill="#ef8a2a" />
<circle cx="502.20" cy="789.00" r="2.1" fill="#ef8a2a" />
<circle cx="505.00" cy="788.90" r="2.1" fill="#ef8a2a" />
<circle cx="507.60" cy="789.60" r="2.1" fill="#ef8a2a" />
<circle cx="510.00" cy="791.20" r="2.1" fill="#ef8a2a" />
<circle cx="512.60" cy="793.60" r="2.1" fill="#ef8a2a" />
<circle cx="503.50" cy="797.30" r="2.1" fill="#ef8a2a" />
<text x="383.80" y="869.30" font-size="9.4" text-anchor="middle" font-weight="normal" fill="#1e1e1e" style="stroke-width:0.34px" >vehicle</text>
<text x="414.60" y="869.30" font-size="9.4" text-anchor="middle" font-weight="normal" fill="#1e1e1e" style="stroke-width:0.34px" >90</text>
<text x="446.10" y="869.30" font-size="9.4" text-anchor="middle" font-weight="normal" fill="#1e1e1e" style="stroke-width:0.34px" >10</text>
<text x="475.30" y="869.30" font-size="9.4" text-anchor="middle" font-weight="normal" fill="#1e1e1e" style="stroke-width:0.34px" >50</text>
<text x="506.30" y="869.30" font-size="9.4" text-anchor="middle" font-weight="normal" fill="#1e1e1e" style="stroke-width:0.34px" >100</text>
<line x1="401.60" y1="875.80" x2="432.80" y2="875.80" stroke="#333333" stroke-width="1.1" />
<line x1="440.20" y1="875.80" x2="520.50" y2="875.80" stroke="#333333" stroke-width="1.1" />
<text x="417.30" y="886.20" font-size="9.4" text-anchor="middle" font-weight="normal" fill="#1e1e1e" style="stroke-width:0.34px" >INC424</text>
<text x="417.30" y="895.80" font-size="9.4" text-anchor="middle" font-weight="normal" fill="#1e1e1e" style="stroke-width:0.34px" >(mg/kg*bid)</text>
<text x="486.00" y="886.00" font-size="9.4" text-anchor="middle" font-weight="normal" fill="#1e1e1e" style="stroke-width:0.34px" >hydroxyurea</text>
<text x="486.50" y="895.80" font-size="9.4" text-anchor="middle" font-weight="normal" fill="#1e1e1e" style="stroke-width:0.34px" >(mg/kg*bid)</text>
</svg>
</body></html>
